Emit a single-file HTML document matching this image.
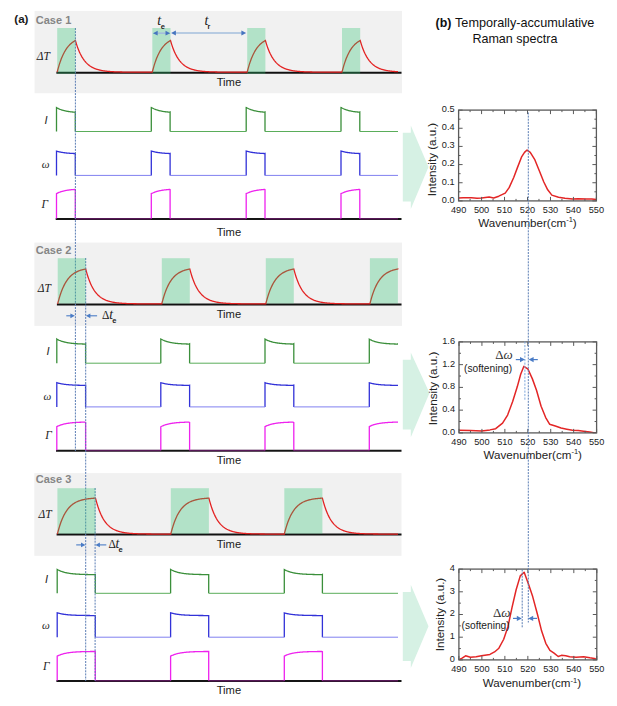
<!DOCTYPE html>
<html><head><meta charset="utf-8"><style>
html,body{margin:0;padding:0;background:#fff;}
svg{display:block;}
</style></head><body>
<svg width="617" height="706" viewBox="0 0 617 706">
<rect width="617" height="706" fill="#fff"/>
<text x="14.3" y="23.4" style="font-family:'Liberation Sans',sans-serif;font-weight:bold;font-size:11.6px" fill="#1a1a1a">(a)</text>
<rect x="34.6" y="10.9" width="367.4" height="82.3" fill="#f1f1f1"/>
<text x="35.8" y="23.8" style="font-family:'Liberation Sans',sans-serif;font-weight:bold;font-size:11px" fill="#858585">Case 1</text>
<line x1="56.4" y1="72.7" x2="401.5" y2="72.7" stroke="#111" stroke-width="2"/>
<path d="M57.2,72.2 L57.7,70.23 L58.2,68.36 L58.7,66.6 L59.2,64.93 L59.7,63.35 L60.2,61.85 L60.7,60.44 L61.2,59.1 L61.7,57.84 L62.2,56.64 L62.7,55.51 L63.2,54.44 L63.7,53.43 L64.2,52.47 L64.7,51.56 L65.2,50.71 L65.7,49.89 L66.2,49.13 L66.7,48.4 L67.2,47.72 L67.7,47.07 L68.2,46.45 L68.7,45.87 L69.2,45.32 L69.7,44.8 L70.2,44.31 L70.7,43.84 L71.2,43.4 L71.7,42.99 L72.2,42.59 L72.7,42.22 L73.2,41.87 L73.7,41.54 L74.2,41.22 L74.7,40.92 L75.2,40.64 L75.4,40.53 L75.9,42.24 L76.4,43.86 L76.9,45.39 L77.4,46.84 L77.9,48.21 L78.4,49.51 L78.9,50.73 L79.4,51.89 L79.9,52.99 L80.4,54.03 L80.9,55.01 L81.4,55.94 L81.9,56.82 L82.4,57.65 L82.9,58.44 L83.4,59.18 L83.9,59.88 L84.4,60.55 L84.9,61.18 L85.4,61.77 L85.9,62.34 L86.4,62.87 L86.9,63.38 L87.4,63.85 L87.9,64.3 L88.4,64.73 L88.9,65.13 L89.4,65.52 L89.9,65.88 L90.4,66.22 L90.9,66.54 L91.4,66.85 L91.9,67.14 L92.4,67.41 L92.9,67.67 L93.4,67.91 L93.9,68.15 L94.4,68.36 L94.9,68.57 L95.4,68.77 L95.9,68.95 L96.4,69.13 L96.9,69.29 L97.4,69.45 L97.9,69.6 L98.4,69.74 L98.9,69.87 L99.4,70 L99.9,70.12 L100.4,70.23 L100.9,70.34 L101.4,70.44 L101.9,70.53 L102.4,70.62 L102.9,70.71 L103.4,70.79 L103.9,70.87 L104.4,70.94 L104.9,71.01 L105.4,71.07 L105.9,71.13 L106.4,71.19 L106.9,71.24 L107.4,71.3 L107.9,71.34 L108.4,71.39 L108.9,71.43 L109.4,71.48 L109.9,71.51 L110.4,71.55 L110.9,71.59 L111.4,71.62 L111.9,71.65 L112.4,71.68 L112.9,71.71 L113.4,71.74 L113.9,71.76 L114.4,71.78 L114.9,71.81 L115.4,71.83 L115.9,71.85 L116.4,71.87 L116.9,71.89 L117.4,71.9 L117.9,71.92 L118.4,71.93 L118.9,71.95 L119.4,71.96 L119.9,71.97 L120.4,71.99 L120.9,72 L121.4,72.01 L121.9,72.02 L122.4,72.03 L122.9,72.04 L123.4,72.05 L123.9,72.06 L124.4,72.06 L124.9,72.07 L125.4,72.08 L125.9,72.08 L126.4,72.09 L126.9,72.1 L127.4,72.1 L127.9,72.11 L128.4,72.11 L128.9,72.12 L129.4,72.12 L129.9,72.13 L130.4,72.13 L130.9,72.13 L131.4,72.14 L131.9,72.14 L132.4,72.14 L132.9,72.15 L133.4,72.15 L133.9,72.15 L134.4,72.15 L134.9,72.16 L135.4,72.16 L135.9,72.16 L136.4,72.16 L136.9,72.17 L137.4,72.17 L137.9,72.17 L138.4,72.17 L138.9,72.17 L139.4,72.17 L139.9,72.18 L140.4,72.18 L140.9,72.18 L141.4,72.18 L141.9,72.18 L142.4,72.18 L142.9,72.18 L143.4,72.18 L143.9,72.18 L144.4,72.19 L144.9,72.19 L145.4,72.19 L145.9,72.19 L146.4,72.19 L146.9,72.19 L147.4,72.19 L147.9,72.19 L148.4,72.19 L148.9,72.19 L149.4,72.19 L149.9,72.19 L150.4,72.19 L150.9,72.19 L151.4,72.19 L151.9,72.19 L152.3,72.19 L152.8,70.22 L153.3,68.36 L153.8,66.59 L154.3,64.92 L154.8,63.34 L155.3,61.85 L155.8,60.44 L156.3,59.1 L156.8,57.83 L157.3,56.64 L157.8,55.51 L158.3,54.44 L158.8,53.42 L159.3,52.47 L159.8,51.56 L160.3,50.7 L160.8,49.89 L161.3,49.13 L161.8,48.4 L162.3,47.71 L162.8,47.06 L163.3,46.45 L163.8,45.87 L164.3,45.32 L164.8,44.8 L165.3,44.31 L165.8,43.84 L166.3,43.4 L166.8,42.99 L167.3,42.59 L167.8,42.22 L168.3,41.87 L168.8,41.53 L169.3,41.22 L169.8,40.92 L170.3,40.64 L170.5,40.53 L171,42.24 L171.5,43.86 L172,45.39 L172.5,46.84 L173,48.21 L173.5,49.51 L174,50.73 L174.5,51.89 L175,52.99 L175.5,54.03 L176,55.01 L176.5,55.94 L177,56.82 L177.5,57.65 L178,58.44 L178.5,59.18 L179,59.88 L179.5,60.55 L180,61.18 L180.5,61.77 L181,62.34 L181.5,62.87 L182,63.38 L182.5,63.85 L183,64.3 L183.5,64.73 L184,65.13 L184.5,65.52 L185,65.88 L185.5,66.22 L186,66.54 L186.5,66.85 L187,67.14 L187.5,67.41 L188,67.67 L188.5,67.91 L189,68.15 L189.5,68.36 L190,68.57 L190.5,68.77 L191,68.95 L191.5,69.13 L192,69.29 L192.5,69.45 L193,69.6 L193.5,69.74 L194,69.87 L194.5,70 L195,70.12 L195.5,70.23 L196,70.34 L196.5,70.44 L197,70.53 L197.5,70.62 L198,70.71 L198.5,70.79 L199,70.87 L199.5,70.94 L200,71.01 L200.5,71.07 L201,71.13 L201.5,71.19 L202,71.24 L202.5,71.3 L203,71.34 L203.5,71.39 L204,71.43 L204.5,71.48 L205,71.51 L205.5,71.55 L206,71.59 L206.5,71.62 L207,71.65 L207.5,71.68 L208,71.71 L208.5,71.74 L209,71.76 L209.5,71.78 L210,71.81 L210.5,71.83 L211,71.85 L211.5,71.87 L212,71.89 L212.5,71.9 L213,71.92 L213.5,71.93 L214,71.95 L214.5,71.96 L215,71.97 L215.5,71.99 L216,72 L216.5,72.01 L217,72.02 L217.5,72.03 L218,72.04 L218.5,72.05 L219,72.06 L219.5,72.06 L220,72.07 L220.5,72.08 L221,72.08 L221.5,72.09 L222,72.1 L222.5,72.1 L223,72.11 L223.5,72.11 L224,72.12 L224.5,72.12 L225,72.13 L225.5,72.13 L226,72.13 L226.5,72.14 L227,72.14 L227.5,72.14 L228,72.15 L228.5,72.15 L229,72.15 L229.5,72.15 L230,72.16 L230.5,72.16 L231,72.16 L231.5,72.16 L232,72.17 L232.5,72.17 L233,72.17 L233.5,72.17 L234,72.17 L234.5,72.17 L235,72.18 L235.5,72.18 L236,72.18 L236.5,72.18 L237,72.18 L237.5,72.18 L238,72.18 L238.5,72.18 L239,72.18 L239.5,72.19 L240,72.19 L240.5,72.19 L241,72.19 L241.5,72.19 L242,72.19 L242.5,72.19 L243,72.19 L243.5,72.19 L244,72.19 L244.5,72.19 L245,72.19 L245.5,72.19 L246,72.19 L246.5,72.19 L247,72.19 L247.2,72.19 L247.7,70.22 L248.2,68.36 L248.7,66.59 L249.2,64.92 L249.7,63.34 L250.2,61.85 L250.7,60.44 L251.2,59.1 L251.7,57.83 L252.2,56.64 L252.7,55.51 L253.2,54.44 L253.7,53.42 L254.2,52.47 L254.7,51.56 L255.2,50.7 L255.7,49.89 L256.2,49.13 L256.7,48.4 L257.2,47.71 L257.7,47.06 L258.2,46.45 L258.7,45.87 L259.2,45.32 L259.7,44.8 L260.2,44.31 L260.7,43.84 L261.2,43.4 L261.7,42.99 L262.2,42.59 L262.7,42.22 L263.2,41.87 L263.7,41.53 L264.2,41.22 L264.7,40.92 L265.2,40.64 L265.4,40.53 L265.9,42.24 L266.4,43.86 L266.9,45.39 L267.4,46.84 L267.9,48.21 L268.4,49.51 L268.9,50.73 L269.4,51.89 L269.9,52.99 L270.4,54.03 L270.9,55.01 L271.4,55.94 L271.9,56.82 L272.4,57.65 L272.9,58.44 L273.4,59.18 L273.9,59.88 L274.4,60.55 L274.9,61.18 L275.4,61.77 L275.9,62.34 L276.4,62.87 L276.9,63.38 L277.4,63.85 L277.9,64.3 L278.4,64.73 L278.9,65.13 L279.4,65.52 L279.9,65.88 L280.4,66.22 L280.9,66.54 L281.4,66.85 L281.9,67.14 L282.4,67.41 L282.9,67.67 L283.4,67.91 L283.9,68.15 L284.4,68.36 L284.9,68.57 L285.4,68.77 L285.9,68.95 L286.4,69.13 L286.9,69.29 L287.4,69.45 L287.9,69.6 L288.4,69.74 L288.9,69.87 L289.4,70 L289.9,70.12 L290.4,70.23 L290.9,70.34 L291.4,70.44 L291.9,70.53 L292.4,70.62 L292.9,70.71 L293.4,70.79 L293.9,70.87 L294.4,70.94 L294.9,71.01 L295.4,71.07 L295.9,71.13 L296.4,71.19 L296.9,71.24 L297.4,71.3 L297.9,71.34 L298.4,71.39 L298.9,71.43 L299.4,71.48 L299.9,71.51 L300.4,71.55 L300.9,71.59 L301.4,71.62 L301.9,71.65 L302.4,71.68 L302.9,71.71 L303.4,71.74 L303.9,71.76 L304.4,71.78 L304.9,71.81 L305.4,71.83 L305.9,71.85 L306.4,71.87 L306.9,71.89 L307.4,71.9 L307.9,71.92 L308.4,71.93 L308.9,71.95 L309.4,71.96 L309.9,71.97 L310.4,71.99 L310.9,72 L311.4,72.01 L311.9,72.02 L312.4,72.03 L312.9,72.04 L313.4,72.05 L313.9,72.06 L314.4,72.06 L314.9,72.07 L315.4,72.08 L315.9,72.08 L316.4,72.09 L316.9,72.1 L317.4,72.1 L317.9,72.11 L318.4,72.11 L318.9,72.12 L319.4,72.12 L319.9,72.13 L320.4,72.13 L320.9,72.13 L321.4,72.14 L321.9,72.14 L322.4,72.14 L322.9,72.15 L323.4,72.15 L323.9,72.15 L324.4,72.15 L324.9,72.16 L325.4,72.16 L325.9,72.16 L326.4,72.16 L326.9,72.17 L327.4,72.17 L327.9,72.17 L328.4,72.17 L328.9,72.17 L329.4,72.17 L329.9,72.18 L330.4,72.18 L330.9,72.18 L331.4,72.18 L331.9,72.18 L332.4,72.18 L332.9,72.18 L333.4,72.18 L333.9,72.18 L334.4,72.19 L334.9,72.19 L335.4,72.19 L335.9,72.19 L336.4,72.19 L336.9,72.19 L337.4,72.19 L337.9,72.19 L338.4,72.19 L338.9,72.19 L339.4,72.19 L339.9,72.19 L340.4,72.19 L340.9,72.19 L341.4,72.19 L341.9,72.19 L342,72.19 L342.5,70.22 L343,68.36 L343.5,66.59 L344,64.92 L344.5,63.34 L345,61.85 L345.5,60.44 L346,59.1 L346.5,57.83 L347,56.64 L347.5,55.51 L348,54.44 L348.5,53.42 L349,52.47 L349.5,51.56 L350,50.7 L350.5,49.89 L351,49.13 L351.5,48.4 L352,47.71 L352.5,47.06 L353,46.45 L353.5,45.87 L354,45.32 L354.5,44.8 L355,44.31 L355.5,43.84 L356,43.4 L356.5,42.99 L357,42.59 L357.5,42.22 L358,41.87 L358.5,41.53 L359,41.22 L359.5,40.92 L360,40.64 L360.2,40.53 L360.7,42.24 L361.2,43.86 L361.7,45.39 L362.2,46.84 L362.7,48.21 L363.2,49.51 L363.7,50.73 L364.2,51.89 L364.7,52.99 L365.2,54.03 L365.7,55.01 L366.2,55.94 L366.7,56.82 L367.2,57.65 L367.7,58.44 L368.2,59.18 L368.7,59.88 L369.2,60.55 L369.7,61.18 L370.2,61.77 L370.7,62.34 L371.2,62.87 L371.7,63.38 L372.2,63.85 L372.7,64.3 L373.2,64.73 L373.7,65.13 L374.2,65.52 L374.7,65.88 L375.2,66.22 L375.7,66.54 L376.2,66.85 L376.7,67.14 L377.2,67.41 L377.7,67.67 L378.2,67.91 L378.7,68.15 L379.2,68.36 L379.7,68.57 L380.2,68.77 L380.7,68.95 L381.2,69.13 L381.7,69.29 L382.2,69.45 L382.7,69.6 L383.2,69.74 L383.7,69.87 L384.2,70 L384.7,70.12 L385.2,70.23 L385.7,70.34 L386.2,70.44 L386.7,70.53 L387.2,70.62 L387.7,70.71 L388.2,70.79 L388.7,70.87 L389.2,70.94 L389.7,71.01 L390.2,71.07 L390.7,71.13 L391.2,71.19 L391.7,71.24 L392.2,71.3 L392.7,71.34 L393.2,71.39 L393.7,71.43 L394.2,71.48 L394.7,71.51 L395.2,71.55 L395.7,71.59 L396.2,71.62 L396.7,71.65 L397.2,71.68 L397.7,71.71 L398,71.73" fill="none" stroke="#e32222" stroke-width="1.3"/>
<text x="36.8" y="60.4" style="font-family:'Liberation Serif',serif;font-style:italic;font-size:11.5px" fill="#222">&#916;T</text>
<text x="216.7" y="86.4" style="font-family:'Liberation Sans',sans-serif;font-size:11.2px" fill="#1a1a1a">Time</text>
<path d="M56.5,131.5 L56.5,107.6 L57,107.89 L57.5,108.16 L58,108.41 L58.5,108.66 L59,108.89 L59.5,109.1 L60,109.31 L60.5,109.5 L61,109.69 L61.5,109.86 L62,110.02 L62.5,110.18 L63,110.33 L63.5,110.47 L64,110.6 L64.5,110.72 L65,110.84 L65.5,110.95 L66,111.06 L66.5,111.16 L67,111.25 L67.5,111.34 L68,111.42 L68.5,111.5 L69,111.58 L69.5,111.65 L70,111.72 L70.5,111.78 L71,111.84 L71.5,111.9 L72,111.95 L72.5,112 L73,112.05 L73.5,112.1 L74,112.14 L74.5,112.18 L75,112.05 L75.3,111.9 L75.3,131.5" fill="none" stroke="#3b8f3b" stroke-width="1.3"/>
<path d="M151.3,131.5 L151.3,107.6 L151.8,107.72 L152.3,108 L152.8,108.26 L153.3,108.51 L153.8,108.75 L154.3,108.97 L154.8,109.19 L155.3,109.39 L155.8,109.58 L156.3,109.76 L156.8,109.93 L157.3,110.09 L157.8,110.24 L158.3,110.38 L158.8,110.52 L159.3,110.65 L159.8,110.77 L160.3,110.88 L160.8,110.99 L161.3,111.1 L161.8,111.19 L162.3,111.29 L162.8,111.37 L163.3,111.46 L163.8,111.53 L164.3,111.61 L164.8,111.68 L165.3,111.74 L165.8,111.81 L166.3,111.86 L166.8,111.92 L167.3,111.97 L167.8,112.02 L168.3,112.07 L168.8,112.12 L169.3,112.16 L169.8,112.2 L170.1,112.05 L170.1,131.5" fill="none" stroke="#3b8f3b" stroke-width="1.3"/>
<path d="M246.2,131.5 L246.2,107.6 L246.7,107.72 L247.2,108 L247.7,108.26 L248.2,108.51 L248.7,108.75 L249.2,108.97 L249.7,109.19 L250.2,109.39 L250.7,109.58 L251.2,109.76 L251.7,109.93 L252.2,110.09 L252.7,110.24 L253.2,110.38 L253.7,110.52 L254.2,110.65 L254.7,110.77 L255.2,110.88 L255.7,110.99 L256.2,111.1 L256.7,111.19 L257.2,111.29 L257.7,111.37 L258.2,111.46 L258.7,111.53 L259.2,111.61 L259.7,111.68 L260.2,111.74 L260.7,111.81 L261.2,111.86 L261.7,111.92 L262.2,111.97 L262.7,112.02 L263.2,112.07 L263.7,112.12 L264.2,112.16 L264.7,112.2 L265,112.05 L265,131.5" fill="none" stroke="#3b8f3b" stroke-width="1.3"/>
<path d="M341,131.5 L341,107.6 L341.5,107.72 L342,108 L342.5,108.26 L343,108.51 L343.5,108.75 L344,108.97 L344.5,109.19 L345,109.39 L345.5,109.58 L346,109.76 L346.5,109.93 L347,110.09 L347.5,110.24 L348,110.38 L348.5,110.52 L349,110.65 L349.5,110.77 L350,110.88 L350.5,110.99 L351,111.1 L351.5,111.19 L352,111.29 L352.5,111.37 L353,111.46 L353.5,111.53 L354,111.61 L354.5,111.68 L355,111.74 L355.5,111.81 L356,111.86 L356.5,111.92 L357,111.97 L357.5,112.02 L358,112.07 L358.5,112.12 L359,112.16 L359.5,112.2 L359.8,112.05 L359.8,131.5" fill="none" stroke="#3b8f3b" stroke-width="1.3"/>
<line x1="75.3" y1="131.5" x2="151.3" y2="131.5" stroke="#5aad5a" stroke-width="1"/>
<line x1="170.1" y1="131.5" x2="246.2" y2="131.5" stroke="#5aad5a" stroke-width="1"/>
<line x1="265" y1="131.5" x2="341" y2="131.5" stroke="#5aad5a" stroke-width="1"/>
<line x1="359.8" y1="131.5" x2="398" y2="131.5" stroke="#5aad5a" stroke-width="1"/>
<path d="M56.5,175.4 L56.5,151.1 L57,151.25 L57.5,151.39 L58,151.53 L58.5,151.66 L59,151.78 L59.5,151.89 L60,152 L60.5,152.1 L61,152.2 L61.5,152.29 L62,152.38 L62.5,152.46 L63,152.54 L63.5,152.61 L64,152.68 L64.5,152.75 L65,152.81 L65.5,152.87 L66,152.93 L66.5,152.98 L67,153.03 L67.5,153.08 L68,153.12 L68.5,153.16 L69,153.2 L69.5,153.24 L70,153.28 L70.5,153.31 L71,153.34 L71.5,153.37 L72,153.4 L72.5,153.43 L73,153.45 L73.5,153.48 L74,153.5 L74.5,153.52 L75,153.45 L75.3,153.37 L75.3,175.4" fill="none" stroke="#3232d8" stroke-width="1.3"/>
<path d="M151.3,175.4 L151.3,151.1 L151.8,151.16 L152.3,151.31 L152.8,151.45 L153.3,151.58 L153.8,151.71 L154.3,151.83 L154.8,151.94 L155.3,152.04 L155.8,152.14 L156.3,152.24 L156.8,152.33 L157.3,152.41 L157.8,152.49 L158.3,152.57 L158.8,152.64 L159.3,152.71 L159.8,152.77 L160.3,152.83 L160.8,152.89 L161.3,152.95 L161.8,153 L162.3,153.05 L162.8,153.09 L163.3,153.14 L163.8,153.18 L164.3,153.22 L164.8,153.25 L165.3,153.29 L165.8,153.32 L166.3,153.35 L166.8,153.38 L167.3,153.41 L167.8,153.44 L168.3,153.46 L168.8,153.49 L169.3,153.51 L169.8,153.53 L170.1,153.45 L170.1,175.4" fill="none" stroke="#3232d8" stroke-width="1.3"/>
<path d="M246.2,175.4 L246.2,151.1 L246.7,151.16 L247.2,151.31 L247.7,151.45 L248.2,151.58 L248.7,151.71 L249.2,151.83 L249.7,151.94 L250.2,152.04 L250.7,152.14 L251.2,152.24 L251.7,152.33 L252.2,152.41 L252.7,152.49 L253.2,152.57 L253.7,152.64 L254.2,152.71 L254.7,152.77 L255.2,152.83 L255.7,152.89 L256.2,152.95 L256.7,153 L257.2,153.05 L257.7,153.09 L258.2,153.14 L258.7,153.18 L259.2,153.22 L259.7,153.25 L260.2,153.29 L260.7,153.32 L261.2,153.35 L261.7,153.38 L262.2,153.41 L262.7,153.44 L263.2,153.46 L263.7,153.49 L264.2,153.51 L264.7,153.53 L265,153.45 L265,175.4" fill="none" stroke="#3232d8" stroke-width="1.3"/>
<path d="M341,175.4 L341,151.1 L341.5,151.16 L342,151.31 L342.5,151.45 L343,151.58 L343.5,151.71 L344,151.83 L344.5,151.94 L345,152.04 L345.5,152.14 L346,152.24 L346.5,152.33 L347,152.41 L347.5,152.49 L348,152.57 L348.5,152.64 L349,152.71 L349.5,152.77 L350,152.83 L350.5,152.89 L351,152.95 L351.5,153 L352,153.05 L352.5,153.09 L353,153.14 L353.5,153.18 L354,153.22 L354.5,153.25 L355,153.29 L355.5,153.32 L356,153.35 L356.5,153.38 L357,153.41 L357.5,153.44 L358,153.46 L358.5,153.49 L359,153.51 L359.5,153.53 L359.8,153.45 L359.8,175.4" fill="none" stroke="#3232d8" stroke-width="1.3"/>
<line x1="75.3" y1="175.4" x2="151.3" y2="175.4" stroke="#8080f0" stroke-width="1"/>
<line x1="170.1" y1="175.4" x2="246.2" y2="175.4" stroke="#8080f0" stroke-width="1"/>
<line x1="265" y1="175.4" x2="341" y2="175.4" stroke="#8080f0" stroke-width="1"/>
<line x1="359.8" y1="175.4" x2="398" y2="175.4" stroke="#8080f0" stroke-width="1"/>
<line x1="55.7" y1="219" x2="401.5" y2="219" stroke="#151515" stroke-width="2"/>
<path d="M56.5,218.6 L56.5,193.6 L57,193.34 L57.5,193.1 L58,192.86 L58.5,192.64 L59,192.44 L59.5,192.24 L60,192.05 L60.5,191.88 L61,191.71 L61.5,191.55 L62,191.41 L62.5,191.26 L63,191.13 L63.5,191.01 L64,190.89 L64.5,190.77 L65,190.67 L65.5,190.57 L66,190.47 L66.5,190.38 L67,190.29 L67.5,190.21 L68,190.14 L68.5,190.07 L69,190 L69.5,189.93 L70,189.87 L70.5,189.81 L71,189.76 L71.5,189.71 L72,189.66 L72.5,189.61 L73,189.57 L73.5,189.53 L74,189.49 L74.5,189.45 L75,189.57 L75.3,189.7 L75.3,218.6" fill="none" stroke="#ee22ee" stroke-width="1.3"/>
<path d="M151.3,218.6 L151.3,193.6 L151.8,193.5 L152.3,193.24 L152.8,193 L153.3,192.77 L153.8,192.56 L154.3,192.36 L154.8,192.16 L155.3,191.98 L155.8,191.81 L156.3,191.65 L156.8,191.49 L157.3,191.35 L157.8,191.21 L158.3,191.08 L158.8,190.96 L159.3,190.84 L159.8,190.73 L160.3,190.63 L160.8,190.53 L161.3,190.43 L161.8,190.35 L162.3,190.26 L162.8,190.18 L163.3,190.11 L163.8,190.04 L164.3,189.97 L164.8,189.91 L165.3,189.85 L165.8,189.79 L166.3,189.74 L166.8,189.69 L167.3,189.64 L167.8,189.59 L168.3,189.55 L168.8,189.51 L169.3,189.47 L169.8,189.44 L170.1,189.57 L170.1,218.6" fill="none" stroke="#ee22ee" stroke-width="1.3"/>
<path d="M246.2,218.6 L246.2,193.6 L246.7,193.5 L247.2,193.24 L247.7,193 L248.2,192.77 L248.7,192.56 L249.2,192.36 L249.7,192.16 L250.2,191.98 L250.7,191.81 L251.2,191.65 L251.7,191.49 L252.2,191.35 L252.7,191.21 L253.2,191.08 L253.7,190.96 L254.2,190.84 L254.7,190.73 L255.2,190.63 L255.7,190.53 L256.2,190.43 L256.7,190.35 L257.2,190.26 L257.7,190.18 L258.2,190.11 L258.7,190.04 L259.2,189.97 L259.7,189.91 L260.2,189.85 L260.7,189.79 L261.2,189.74 L261.7,189.69 L262.2,189.64 L262.7,189.59 L263.2,189.55 L263.7,189.51 L264.2,189.47 L264.7,189.44 L265,189.57 L265,218.6" fill="none" stroke="#ee22ee" stroke-width="1.3"/>
<path d="M341,218.6 L341,193.6 L341.5,193.5 L342,193.24 L342.5,193 L343,192.77 L343.5,192.56 L344,192.36 L344.5,192.16 L345,191.98 L345.5,191.81 L346,191.65 L346.5,191.49 L347,191.35 L347.5,191.21 L348,191.08 L348.5,190.96 L349,190.84 L349.5,190.73 L350,190.63 L350.5,190.53 L351,190.43 L351.5,190.35 L352,190.26 L352.5,190.18 L353,190.11 L353.5,190.04 L354,189.97 L354.5,189.91 L355,189.85 L355.5,189.79 L356,189.74 L356.5,189.69 L357,189.64 L357.5,189.59 L358,189.55 L358.5,189.51 L359,189.47 L359.5,189.44 L359.8,189.57 L359.8,218.6" fill="none" stroke="#ee22ee" stroke-width="1.3"/>
<line x1="75.3" y1="218.8" x2="151.3" y2="218.8" stroke="#ee22ee" stroke-width="1.6" opacity="0.3"/>
<line x1="170.1" y1="218.8" x2="246.2" y2="218.8" stroke="#ee22ee" stroke-width="1.6" opacity="0.3"/>
<line x1="265" y1="218.8" x2="341" y2="218.8" stroke="#ee22ee" stroke-width="1.6" opacity="0.3"/>
<line x1="359.8" y1="218.8" x2="398" y2="218.8" stroke="#ee22ee" stroke-width="1.6" opacity="0.3"/>
<text x="44.5" y="123.7" style="font-family:'Liberation Sans',sans-serif;font-style:italic;font-size:11px" fill="#222">I</text>
<text x="41.8" y="168.4" style="font-family:'Liberation Serif',serif;font-style:italic;font-size:11px" fill="#222">&#969;</text>
<text x="41.5" y="207.6" style="font-family:'Liberation Serif',serif;font-style:italic;font-size:11.5px" fill="#222">&#915;</text>
<text x="216.7" y="235.7" style="font-family:'Liberation Sans',sans-serif;font-size:11.2px" fill="#1a1a1a">Time</text>
<rect x="34.4" y="242.6" width="367.6" height="83.3" fill="#f1f1f1"/>
<text x="35.8" y="254.3" style="font-family:'Liberation Sans',sans-serif;font-weight:bold;font-size:11px" fill="#858585">Case 2</text>
<line x1="56.9" y1="304.4" x2="401.5" y2="304.4" stroke="#111" stroke-width="2"/>
<path d="M57.7,303.9 L58.2,301.93 L58.7,300.06 L59.2,298.3 L59.7,296.63 L60.2,295.05 L60.7,293.55 L61.2,292.14 L61.7,290.8 L62.2,289.54 L62.7,288.34 L63.2,287.21 L63.7,286.14 L64.2,285.13 L64.7,284.17 L65.2,283.26 L65.7,282.41 L66.2,281.59 L66.7,280.83 L67.2,280.1 L67.7,279.42 L68.2,278.77 L68.7,278.15 L69.2,277.57 L69.7,277.02 L70.2,276.5 L70.7,276.01 L71.2,275.54 L71.7,275.1 L72.2,274.69 L72.7,274.29 L73.2,273.92 L73.7,273.57 L74.2,273.24 L74.7,272.92 L75.2,272.62 L75.7,272.34 L76.2,272.07 L76.7,271.82 L77.2,271.58 L77.7,271.36 L78.2,271.14 L78.7,270.94 L79.2,270.75 L79.7,270.57 L80.2,270.4 L80.7,270.23 L81.2,270.08 L81.7,269.94 L82.2,269.8 L82.7,269.67 L83.2,269.55 L83.7,269.43 L84.2,269.32 L84.7,269.22 L85.2,269.12 L85.7,269.03 L86.2,270.91 L86.7,272.69 L87.2,274.38 L87.7,275.98 L88.2,277.48 L88.7,278.91 L89.2,280.26 L89.7,281.54 L90.2,282.75 L90.7,283.89 L91.2,284.97 L91.7,286 L92.2,286.96 L92.7,287.88 L93.2,288.74 L93.7,289.56 L94.2,290.34 L94.7,291.07 L95.2,291.76 L95.7,292.42 L96.2,293.04 L96.7,293.63 L97.2,294.18 L97.7,294.71 L98.2,295.2 L98.7,295.67 L99.2,296.12 L99.7,296.54 L100.2,296.94 L100.7,297.31 L101.2,297.67 L101.7,298.01 L102.2,298.32 L102.7,298.63 L103.2,298.91 L103.7,299.18 L104.2,299.44 L104.7,299.68 L105.2,299.9 L105.7,300.12 L106.2,300.33 L106.7,300.52 L107.2,300.7 L107.7,300.87 L108.2,301.04 L108.7,301.19 L109.2,301.34 L109.7,301.48 L110.2,301.61 L110.7,301.73 L111.2,301.85 L111.7,301.96 L112.2,302.06 L112.7,302.16 L113.2,302.26 L113.7,302.35 L114.2,302.43 L114.7,302.51 L115.2,302.58 L115.7,302.66 L116.2,302.72 L116.7,302.79 L117.2,302.85 L117.7,302.9 L118.2,302.96 L118.7,303.01 L119.2,303.06 L119.7,303.1 L120.2,303.15 L120.7,303.19 L121.2,303.22 L121.7,303.26 L122.2,303.3 L122.7,303.33 L123.2,303.36 L123.7,303.39 L124.2,303.42 L124.7,303.44 L125.2,303.47 L125.7,303.49 L126.2,303.51 L126.7,303.53 L127.2,303.55 L127.7,303.57 L128.2,303.59 L128.7,303.61 L129.2,303.62 L129.7,303.64 L130.2,303.65 L130.7,303.67 L131.2,303.68 L131.7,303.69 L132.2,303.7 L132.7,303.71 L133.2,303.72 L133.7,303.73 L134.2,303.74 L134.7,303.75 L135.2,303.76 L135.7,303.77 L136.2,303.77 L136.7,303.78 L137.2,303.79 L137.7,303.79 L138.2,303.8 L138.7,303.8 L139.2,303.81 L139.7,303.81 L140.2,303.82 L140.7,303.82 L141.2,303.83 L141.7,303.83 L142.2,303.83 L142.7,303.84 L143.2,303.84 L143.7,303.84 L144.2,303.85 L144.7,303.85 L145.2,303.85 L145.7,303.86 L146.2,303.86 L146.7,303.86 L147.2,303.86 L147.7,303.86 L148.2,303.87 L148.7,303.87 L149.2,303.87 L149.7,303.87 L150.2,303.87 L150.7,303.87 L151.2,303.88 L151.7,303.88 L152.2,303.88 L152.7,303.88 L153.2,303.88 L153.7,303.88 L154.2,303.88 L154.7,303.88 L155.2,303.88 L155.7,303.89 L156.2,303.89 L156.7,303.89 L157.2,303.89 L157.7,303.89 L158.2,303.89 L158.7,303.89 L159.2,303.89 L159.7,303.89 L160.2,303.89 L160.7,303.89 L161.2,303.89 L161.7,303.89 L161.8,303.89 L162.3,301.92 L162.8,300.05 L163.3,298.29 L163.8,296.62 L164.3,295.04 L164.8,293.55 L165.3,292.14 L165.8,290.8 L166.3,289.53 L166.8,288.34 L167.3,287.21 L167.8,286.14 L168.3,285.12 L168.8,284.17 L169.3,283.26 L169.8,282.4 L170.3,281.59 L170.8,280.82 L171.3,280.1 L171.8,279.41 L172.3,278.76 L172.8,278.15 L173.3,277.57 L173.8,277.02 L174.3,276.5 L174.8,276.01 L175.3,275.54 L175.8,275.1 L176.3,274.69 L176.8,274.29 L177.3,273.92 L177.8,273.57 L178.3,273.23 L178.8,272.92 L179.3,272.62 L179.8,272.34 L180.3,272.07 L180.8,271.82 L181.3,271.58 L181.8,271.35 L182.3,271.14 L182.8,270.94 L183.3,270.75 L183.8,270.57 L184.3,270.4 L184.8,270.23 L185.3,270.08 L185.8,269.94 L186.3,269.8 L186.8,269.67 L187.3,269.55 L187.8,269.43 L188.3,269.32 L188.8,269.22 L189.3,269.12 L189.8,269.03 L190.3,270.91 L190.8,272.69 L191.3,274.38 L191.8,275.97 L192.3,277.48 L192.8,278.91 L193.3,280.26 L193.8,281.54 L194.3,282.75 L194.8,283.89 L195.3,284.97 L195.8,285.99 L196.3,286.96 L196.8,287.88 L197.3,288.74 L197.8,289.56 L198.3,290.34 L198.8,291.07 L199.3,291.76 L199.8,292.42 L200.3,293.04 L200.8,293.63 L201.3,294.18 L201.8,294.71 L202.3,295.2 L202.8,295.67 L203.3,296.12 L203.8,296.54 L204.3,296.94 L204.8,297.31 L205.3,297.67 L205.8,298.01 L206.3,298.32 L206.8,298.63 L207.3,298.91 L207.8,299.18 L208.3,299.44 L208.8,299.68 L209.3,299.9 L209.8,300.12 L210.3,300.32 L210.8,300.52 L211.3,300.7 L211.8,300.87 L212.3,301.04 L212.8,301.19 L213.3,301.34 L213.8,301.48 L214.3,301.61 L214.8,301.73 L215.3,301.85 L215.8,301.96 L216.3,302.06 L216.8,302.16 L217.3,302.26 L217.8,302.35 L218.3,302.43 L218.8,302.51 L219.3,302.58 L219.8,302.66 L220.3,302.72 L220.8,302.79 L221.3,302.85 L221.8,302.9 L222.3,302.96 L222.8,303.01 L223.3,303.06 L223.8,303.1 L224.3,303.15 L224.8,303.19 L225.3,303.22 L225.8,303.26 L226.3,303.3 L226.8,303.33 L227.3,303.36 L227.8,303.39 L228.3,303.42 L228.8,303.44 L229.3,303.47 L229.8,303.49 L230.3,303.51 L230.8,303.53 L231.3,303.55 L231.8,303.57 L232.3,303.59 L232.8,303.61 L233.3,303.62 L233.8,303.64 L234.3,303.65 L234.8,303.67 L235.3,303.68 L235.8,303.69 L236.3,303.7 L236.8,303.71 L237.3,303.72 L237.8,303.73 L238.3,303.74 L238.8,303.75 L239.3,303.76 L239.8,303.77 L240.3,303.77 L240.8,303.78 L241.3,303.79 L241.8,303.79 L242.3,303.8 L242.8,303.8 L243.3,303.81 L243.8,303.81 L244.3,303.82 L244.8,303.82 L245.3,303.83 L245.8,303.83 L246.3,303.83 L246.8,303.84 L247.3,303.84 L247.8,303.84 L248.3,303.85 L248.8,303.85 L249.3,303.85 L249.8,303.86 L250.3,303.86 L250.8,303.86 L251.3,303.86 L251.8,303.86 L252.3,303.87 L252.8,303.87 L253.3,303.87 L253.8,303.87 L254.3,303.87 L254.8,303.87 L255.3,303.88 L255.8,303.88 L256.3,303.88 L256.8,303.88 L257.3,303.88 L257.8,303.88 L258.3,303.88 L258.8,303.88 L259.3,303.88 L259.8,303.89 L260.3,303.89 L260.8,303.89 L261.3,303.89 L261.8,303.89 L262.3,303.89 L262.8,303.89 L263.3,303.89 L263.8,303.89 L264.3,303.89 L264.8,303.89 L265.3,303.89 L265.8,303.89 L266.3,301.92 L266.8,300.05 L267.3,298.29 L267.8,296.62 L268.3,295.04 L268.8,293.55 L269.3,292.13 L269.8,290.8 L270.3,289.53 L270.8,288.34 L271.3,287.21 L271.8,286.14 L272.3,285.12 L272.8,284.17 L273.3,283.26 L273.8,282.4 L274.3,281.59 L274.8,280.82 L275.3,280.1 L275.8,279.41 L276.3,278.76 L276.8,278.15 L277.3,277.57 L277.8,277.02 L278.3,276.5 L278.8,276.01 L279.3,275.54 L279.8,275.1 L280.3,274.69 L280.8,274.29 L281.3,273.92 L281.8,273.57 L282.3,273.23 L282.8,272.92 L283.3,272.62 L283.8,272.34 L284.3,272.07 L284.8,271.82 L285.3,271.58 L285.8,271.35 L286.3,271.14 L286.8,270.94 L287.3,270.75 L287.8,270.57 L288.3,270.4 L288.8,270.23 L289.3,270.08 L289.8,269.94 L290.3,269.8 L290.8,269.67 L291.3,269.55 L291.8,269.43 L292.3,269.32 L292.8,269.22 L293.3,269.12 L293.8,269.03 L294.3,270.91 L294.8,272.69 L295.3,274.38 L295.8,275.97 L296.3,277.48 L296.8,278.91 L297.3,280.26 L297.8,281.54 L298.3,282.75 L298.8,283.89 L299.3,284.97 L299.8,285.99 L300.3,286.96 L300.8,287.88 L301.3,288.74 L301.8,289.56 L302.3,290.34 L302.8,291.07 L303.3,291.76 L303.8,292.42 L304.3,293.04 L304.8,293.63 L305.3,294.18 L305.8,294.71 L306.3,295.2 L306.8,295.67 L307.3,296.12 L307.8,296.54 L308.3,296.94 L308.8,297.31 L309.3,297.67 L309.8,298.01 L310.3,298.32 L310.8,298.63 L311.3,298.91 L311.8,299.18 L312.3,299.44 L312.8,299.68 L313.3,299.9 L313.8,300.12 L314.3,300.32 L314.8,300.52 L315.3,300.7 L315.8,300.87 L316.3,301.04 L316.8,301.19 L317.3,301.34 L317.8,301.48 L318.3,301.61 L318.8,301.73 L319.3,301.85 L319.8,301.96 L320.3,302.06 L320.8,302.16 L321.3,302.26 L321.8,302.35 L322.3,302.43 L322.8,302.51 L323.3,302.58 L323.8,302.66 L324.3,302.72 L324.8,302.79 L325.3,302.85 L325.8,302.9 L326.3,302.96 L326.8,303.01 L327.3,303.06 L327.8,303.1 L328.3,303.15 L328.8,303.19 L329.3,303.22 L329.8,303.26 L330.3,303.3 L330.8,303.33 L331.3,303.36 L331.8,303.39 L332.3,303.42 L332.8,303.44 L333.3,303.47 L333.8,303.49 L334.3,303.51 L334.8,303.53 L335.3,303.55 L335.8,303.57 L336.3,303.59 L336.8,303.61 L337.3,303.62 L337.8,303.64 L338.3,303.65 L338.8,303.67 L339.3,303.68 L339.8,303.69 L340.3,303.7 L340.8,303.71 L341.3,303.72 L341.8,303.73 L342.3,303.74 L342.8,303.75 L343.3,303.76 L343.8,303.77 L344.3,303.77 L344.8,303.78 L345.3,303.79 L345.8,303.79 L346.3,303.8 L346.8,303.8 L347.3,303.81 L347.8,303.81 L348.3,303.82 L348.8,303.82 L349.3,303.83 L349.8,303.83 L350.3,303.83 L350.8,303.84 L351.3,303.84 L351.8,303.84 L352.3,303.85 L352.8,303.85 L353.3,303.85 L353.8,303.86 L354.3,303.86 L354.8,303.86 L355.3,303.86 L355.8,303.86 L356.3,303.87 L356.8,303.87 L357.3,303.87 L357.8,303.87 L358.3,303.87 L358.8,303.87 L359.3,303.88 L359.8,303.88 L360.3,303.88 L360.8,303.88 L361.3,303.88 L361.8,303.88 L362.3,303.88 L362.8,303.88 L363.3,303.88 L363.8,303.89 L364.3,303.89 L364.8,303.89 L365.3,303.89 L365.8,303.89 L366.3,303.89 L366.8,303.89 L367.3,303.89 L367.8,303.89 L368.3,303.89 L368.8,303.89 L369.3,303.89 L369.8,303.89 L369.9,303.89 L370.4,301.92 L370.9,300.05 L371.4,298.29 L371.9,296.62 L372.4,295.04 L372.9,293.55 L373.4,292.14 L373.9,290.8 L374.4,289.53 L374.9,288.34 L375.4,287.21 L375.9,286.14 L376.4,285.12 L376.9,284.17 L377.4,283.26 L377.9,282.4 L378.4,281.59 L378.9,280.82 L379.4,280.1 L379.9,279.41 L380.4,278.76 L380.9,278.15 L381.4,277.57 L381.9,277.02 L382.4,276.5 L382.9,276.01 L383.4,275.54 L383.9,275.1 L384.4,274.69 L384.9,274.29 L385.4,273.92 L385.9,273.57 L386.4,273.23 L386.9,272.92 L387.4,272.62 L387.9,272.34 L388.4,272.07 L388.9,271.82 L389.4,271.58 L389.9,271.35 L390.4,271.14 L390.9,270.94 L391.4,270.75 L391.9,270.57 L392.4,270.4 L392.9,270.23 L393.4,270.08 L393.9,269.94 L394.4,269.8 L394.9,269.67 L395.4,269.55 L395.9,269.43 L396.4,269.32 L396.9,269.22 L397.4,269.12 L397.9,269.03 L398,269.41" fill="none" stroke="#e32222" stroke-width="1.3"/>
<text x="37.8" y="292.2" style="font-family:'Liberation Serif',serif;font-style:italic;font-size:11.5px" fill="#222">&#916;T</text>
<text x="216.7" y="317.8" style="font-family:'Liberation Sans',sans-serif;font-size:11.2px" fill="#1a1a1a">Time</text>
<path d="M56.8,363.2 L56.8,339 L57.3,339.29 L57.8,339.56 L58.3,339.81 L58.8,340.06 L59.3,340.29 L59.8,340.5 L60.3,340.71 L60.8,340.9 L61.3,341.09 L61.8,341.26 L62.3,341.42 L62.8,341.58 L63.3,341.73 L63.8,341.87 L64.3,342 L64.8,342.12 L65.3,342.24 L65.8,342.35 L66.3,342.46 L66.8,342.56 L67.3,342.65 L67.8,342.74 L68.3,342.82 L68.8,342.9 L69.3,342.98 L69.8,343.05 L70.3,343.12 L70.8,343.18 L71.3,343.24 L71.8,343.3 L72.3,343.35 L72.8,343.4 L73.3,343.45 L73.8,343.5 L74.3,343.54 L74.8,343.58 L75.3,343.62 L75.8,343.66 L76.3,343.69 L76.8,343.73 L77.3,343.76 L77.8,343.79 L78.3,343.81 L78.8,343.84 L79.3,343.86 L79.8,343.89 L80.3,343.91 L80.8,343.93 L81.3,343.95 L81.8,343.97 L82.3,343.99 L82.8,344.01 L83.3,344.02 L83.8,344.04 L84.3,344.05 L84.8,344.06 L85.3,343.79 L85.6,343.63 L85.6,363.2" fill="none" stroke="#3b8f3b" stroke-width="1.3"/>
<path d="M160.8,363.2 L160.8,339 L161.3,339.23 L161.8,339.5 L162.3,339.76 L162.8,340.01 L163.3,340.24 L163.8,340.46 L164.3,340.67 L164.8,340.86 L165.3,341.05 L165.8,341.22 L166.3,341.39 L166.8,341.55 L167.3,341.7 L167.8,341.84 L168.3,341.97 L168.8,342.1 L169.3,342.22 L169.8,342.33 L170.3,342.43 L170.8,342.54 L171.3,342.63 L171.8,342.72 L172.3,342.81 L172.8,342.89 L173.3,342.96 L173.8,343.04 L174.3,343.1 L174.8,343.17 L175.3,343.23 L175.8,343.29 L176.3,343.34 L176.8,343.39 L177.3,343.44 L177.8,343.49 L178.3,343.53 L178.8,343.57 L179.3,343.61 L179.8,343.65 L180.3,343.69 L180.8,343.72 L181.3,343.75 L181.8,343.78 L182.3,343.81 L182.8,343.83 L183.3,343.86 L183.8,343.88 L184.3,343.91 L184.8,343.93 L185.3,343.95 L185.8,343.97 L186.3,343.98 L186.8,344 L187.3,344.02 L187.8,344.03 L188.3,344.05 L188.8,344.06 L189.3,343.84 L189.6,343.69 L189.6,363.2" fill="none" stroke="#3b8f3b" stroke-width="1.3"/>
<path d="M265,363.2 L265,339.06 L265.5,339.34 L266,339.61 L266.5,339.86 L267,340.1 L267.5,340.33 L268,340.54 L268.5,340.75 L269,340.94 L269.5,341.12 L270,341.29 L270.5,341.46 L271,341.61 L271.5,341.75 L272,341.89 L272.5,342.02 L273,342.15 L273.5,342.26 L274,342.37 L274.5,342.48 L275,342.57 L275.5,342.67 L276,342.76 L276.5,342.84 L277,342.92 L277.5,342.99 L278,343.06 L278.5,343.13 L279,343.19 L279.5,343.25 L280,343.31 L280.5,343.36 L281,343.41 L281.5,343.46 L282,343.51 L282.5,343.55 L283,343.59 L283.5,343.63 L284,343.67 L284.5,343.7 L285,343.73 L285.5,343.76 L286,343.79 L286.5,343.82 L287,343.85 L287.5,343.87 L288,343.89 L288.5,343.91 L289,343.94 L289.5,343.96 L290,343.97 L290.5,343.99 L291,344.01 L291.5,344.02 L292,344.04 L292.5,344.05 L293,344.01 L293.5,343.74 L293.8,343.58 L293.8,363.2" fill="none" stroke="#3b8f3b" stroke-width="1.3"/>
<path d="M369.3,363.2 L369.3,339.17 L369.8,339.45 L370.3,339.71 L370.8,339.96 L371.3,340.19 L371.8,340.42 L372.3,340.63 L372.8,340.82 L373.3,341.01 L373.8,341.19 L374.3,341.36 L374.8,341.52 L375.3,341.67 L375.8,341.81 L376.3,341.94 L376.8,342.07 L377.3,342.19 L377.8,342.31 L378.3,342.41 L378.8,342.52 L379.3,342.61 L379.8,342.7 L380.3,342.79 L380.8,342.87 L381.3,342.95 L381.8,343.02 L382.3,343.09 L382.8,343.16 L383.3,343.22 L383.8,343.28 L384.3,343.33 L384.8,343.38 L385.3,343.43 L385.8,343.48 L386.3,343.52 L386.8,343.57 L387.3,343.61 L387.8,343.64 L388.3,343.68 L388.8,343.71 L389.3,343.74 L389.8,343.77 L390.3,343.8 L390.8,343.83 L391.3,343.86 L391.8,343.88 L392.3,343.9 L392.8,343.92 L393.3,343.94 L393.8,343.96 L394.3,343.98 L394.8,344 L395.3,344.01 L395.8,344.03 L396.3,344.04 L396.8,344.06 L397.3,344.01 L397.8,344.01 L398,344.01" fill="none" stroke="#3b8f3b" stroke-width="1.3"/>
<line x1="85.6" y1="363.2" x2="160.8" y2="363.2" stroke="#5aad5a" stroke-width="1"/>
<line x1="189.6" y1="363.2" x2="265" y2="363.2" stroke="#5aad5a" stroke-width="1"/>
<line x1="293.8" y1="363.2" x2="369.3" y2="363.2" stroke="#5aad5a" stroke-width="1"/>
<path d="M56.8,406.9 L56.8,382.7 L57.3,382.85 L57.8,382.99 L58.3,383.13 L58.8,383.26 L59.3,383.38 L59.8,383.49 L60.3,383.6 L60.8,383.7 L61.3,383.8 L61.8,383.89 L62.3,383.98 L62.8,384.06 L63.3,384.14 L63.8,384.21 L64.3,384.28 L64.8,384.35 L65.3,384.41 L65.8,384.47 L66.3,384.53 L66.8,384.58 L67.3,384.63 L67.8,384.68 L68.3,384.72 L68.8,384.76 L69.3,384.8 L69.8,384.84 L70.3,384.88 L70.8,384.91 L71.3,384.94 L71.8,384.97 L72.3,385 L72.8,385.03 L73.3,385.05 L73.8,385.08 L74.3,385.1 L74.8,385.12 L75.3,385.14 L75.8,385.16 L76.3,385.18 L76.8,385.2 L77.3,385.21 L77.8,385.23 L78.3,385.24 L78.8,385.26 L79.3,385.27 L79.8,385.28 L80.3,385.29 L80.8,385.31 L81.3,385.32 L81.8,385.33 L82.3,385.34 L82.8,385.34 L83.3,385.35 L83.8,385.36 L84.3,385.37 L84.8,385.38 L85.3,385.23 L85.6,385.15 L85.6,406.9" fill="none" stroke="#3232d8" stroke-width="1.3"/>
<path d="M160.8,406.9 L160.8,382.7 L161.3,382.82 L161.8,382.97 L162.3,383.1 L162.8,383.23 L163.3,383.36 L163.8,383.47 L164.3,383.58 L164.8,383.68 L165.3,383.78 L165.8,383.88 L166.3,383.96 L166.8,384.05 L167.3,384.12 L167.8,384.2 L168.3,384.27 L168.8,384.34 L169.3,384.4 L169.8,384.46 L170.3,384.51 L170.8,384.57 L171.3,384.62 L171.8,384.67 L172.3,384.71 L172.8,384.75 L173.3,384.79 L173.8,384.83 L174.3,384.87 L174.8,384.9 L175.3,384.93 L175.8,384.97 L176.3,384.99 L176.8,385.02 L177.3,385.05 L177.8,385.07 L178.3,385.09 L178.8,385.12 L179.3,385.14 L179.8,385.16 L180.3,385.18 L180.8,385.19 L181.3,385.21 L181.8,385.23 L182.3,385.24 L182.8,385.25 L183.3,385.27 L183.8,385.28 L184.3,385.29 L184.8,385.3 L185.3,385.31 L185.8,385.32 L186.3,385.33 L186.8,385.34 L187.3,385.35 L187.8,385.36 L188.3,385.37 L188.8,385.37 L189.3,385.26 L189.6,385.18 L189.6,406.9" fill="none" stroke="#3232d8" stroke-width="1.3"/>
<path d="M265,406.9 L265,382.73 L265.5,382.88 L266,383.02 L266.5,383.16 L267,383.28 L267.5,383.4 L268,383.52 L268.5,383.62 L269,383.72 L269.5,383.82 L270,383.91 L270.5,384 L271,384.08 L271.5,384.16 L272,384.23 L272.5,384.3 L273,384.36 L273.5,384.42 L274,384.48 L274.5,384.54 L275,384.59 L275.5,384.64 L276,384.68 L276.5,384.73 L277,384.77 L277.5,384.81 L278,384.85 L278.5,384.88 L279,384.92 L279.5,384.95 L280,384.98 L280.5,385.01 L281,385.03 L281.5,385.06 L282,385.08 L282.5,385.1 L283,385.13 L283.5,385.15 L284,385.16 L284.5,385.18 L285,385.2 L285.5,385.22 L286,385.23 L286.5,385.25 L287,385.26 L287.5,385.27 L288,385.28 L288.5,385.3 L289,385.31 L289.5,385.32 L290,385.33 L290.5,385.34 L291,385.35 L291.5,385.35 L292,385.36 L292.5,385.37 L293,385.35 L293.5,385.2 L293.8,385.12 L293.8,406.9" fill="none" stroke="#3232d8" stroke-width="1.3"/>
<path d="M369.3,406.9 L369.3,382.79 L369.8,382.94 L370.3,383.08 L370.8,383.21 L371.3,383.33 L371.8,383.45 L372.3,383.56 L372.8,383.66 L373.3,383.76 L373.8,383.86 L374.3,383.95 L374.8,384.03 L375.3,384.11 L375.8,384.18 L376.3,384.26 L376.8,384.32 L377.3,384.39 L377.8,384.45 L378.3,384.5 L378.8,384.56 L379.3,384.61 L379.8,384.66 L380.3,384.7 L380.8,384.75 L381.3,384.79 L381.8,384.82 L382.3,384.86 L382.8,384.9 L383.3,384.93 L383.8,384.96 L384.3,384.99 L384.8,385.02 L385.3,385.04 L385.8,385.07 L386.3,385.09 L386.8,385.11 L387.3,385.13 L387.8,385.15 L388.3,385.17 L388.8,385.19 L389.3,385.21 L389.8,385.22 L390.3,385.24 L390.8,385.25 L391.3,385.26 L391.8,385.28 L392.3,385.29 L392.8,385.3 L393.3,385.31 L393.8,385.32 L394.3,385.33 L394.8,385.34 L395.3,385.35 L395.8,385.36 L396.3,385.37 L396.8,385.37 L397.3,385.35 L397.8,385.35 L398,385.35" fill="none" stroke="#3232d8" stroke-width="1.3"/>
<line x1="85.6" y1="406.9" x2="160.8" y2="406.9" stroke="#8080f0" stroke-width="1"/>
<line x1="189.6" y1="406.9" x2="265" y2="406.9" stroke="#8080f0" stroke-width="1"/>
<line x1="293.8" y1="406.9" x2="369.3" y2="406.9" stroke="#8080f0" stroke-width="1"/>
<line x1="56" y1="450.7" x2="401.5" y2="450.7" stroke="#151515" stroke-width="2"/>
<path d="M56.8,450.3 L56.8,426.7 L57.3,426.44 L57.8,426.2 L58.3,425.96 L58.8,425.74 L59.3,425.54 L59.8,425.34 L60.3,425.15 L60.8,424.98 L61.3,424.81 L61.8,424.65 L62.3,424.51 L62.8,424.36 L63.3,424.23 L63.8,424.11 L64.3,423.99 L64.8,423.87 L65.3,423.77 L65.8,423.67 L66.3,423.57 L66.8,423.48 L67.3,423.39 L67.8,423.31 L68.3,423.24 L68.8,423.17 L69.3,423.1 L69.8,423.03 L70.3,422.97 L70.8,422.91 L71.3,422.86 L71.8,422.81 L72.3,422.76 L72.8,422.71 L73.3,422.67 L73.8,422.63 L74.3,422.59 L74.8,422.55 L75.3,422.51 L75.8,422.48 L76.3,422.45 L76.8,422.42 L77.3,422.39 L77.8,422.37 L78.3,422.34 L78.8,422.32 L79.3,422.29 L79.8,422.27 L80.3,422.25 L80.8,422.23 L81.3,422.22 L81.8,422.2 L82.3,422.18 L82.8,422.17 L83.3,422.15 L83.8,422.14 L84.3,422.13 L84.8,422.11 L85.3,422.36 L85.6,422.5 L85.6,450.3" fill="none" stroke="#ee22ee" stroke-width="1.3"/>
<path d="M160.8,450.3 L160.8,426.7 L161.3,426.49 L161.8,426.24 L162.3,426.01 L162.8,425.79 L163.3,425.58 L163.8,425.38 L164.3,425.19 L164.8,425.01 L165.3,424.84 L165.8,424.68 L166.3,424.53 L166.8,424.39 L167.3,424.26 L167.8,424.13 L168.3,424.01 L168.8,423.9 L169.3,423.79 L169.8,423.69 L170.3,423.59 L170.8,423.5 L171.3,423.41 L171.8,423.33 L172.3,423.25 L172.8,423.18 L173.3,423.11 L173.8,423.04 L174.3,422.98 L174.8,422.92 L175.3,422.87 L175.8,422.82 L176.3,422.77 L176.8,422.72 L177.3,422.68 L177.8,422.63 L178.3,422.59 L178.8,422.56 L179.3,422.52 L179.8,422.49 L180.3,422.46 L180.8,422.43 L181.3,422.4 L181.8,422.37 L182.3,422.35 L182.8,422.32 L183.3,422.3 L183.8,422.28 L184.3,422.26 L184.8,422.24 L185.3,422.22 L185.8,422.2 L186.3,422.19 L186.8,422.17 L187.3,422.16 L187.8,422.14 L188.3,422.13 L188.8,422.12 L189.3,422.31 L189.6,422.46 L189.6,450.3" fill="none" stroke="#ee22ee" stroke-width="1.3"/>
<path d="M265,450.3 L265,426.65 L265.5,426.39 L266,426.15 L266.5,425.92 L267,425.7 L267.5,425.5 L268,425.3 L268.5,425.12 L269,424.94 L269.5,424.78 L270,424.62 L270.5,424.48 L271,424.34 L271.5,424.21 L272,424.08 L272.5,423.96 L273,423.85 L273.5,423.75 L274,423.65 L274.5,423.55 L275,423.46 L275.5,423.38 L276,423.3 L276.5,423.22 L277,423.15 L277.5,423.08 L278,423.02 L278.5,422.96 L279,422.9 L279.5,422.85 L280,422.8 L280.5,422.75 L281,422.7 L281.5,422.66 L282,422.62 L282.5,422.58 L283,422.54 L283.5,422.51 L284,422.47 L284.5,422.44 L285,422.41 L285.5,422.39 L286,422.36 L286.5,422.34 L287,422.31 L287.5,422.29 L288,422.27 L288.5,422.25 L289,422.23 L289.5,422.21 L290,422.2 L290.5,422.18 L291,422.16 L291.5,422.15 L292,422.14 L292.5,422.12 L293,422.16 L293.5,422.41 L293.8,422.55 L293.8,450.3" fill="none" stroke="#ee22ee" stroke-width="1.3"/>
<path d="M369.3,450.3 L369.3,426.54 L369.8,426.29 L370.3,426.06 L370.8,425.83 L371.3,425.62 L371.8,425.42 L372.3,425.23 L372.8,425.05 L373.3,424.88 L373.8,424.72 L374.3,424.56 L374.8,424.42 L375.3,424.28 L375.8,424.16 L376.3,424.03 L376.8,423.92 L377.3,423.81 L377.8,423.71 L378.3,423.61 L378.8,423.52 L379.3,423.43 L379.8,423.35 L380.3,423.27 L380.8,423.19 L381.3,423.12 L381.8,423.06 L382.3,423 L382.8,422.94 L383.3,422.88 L383.8,422.83 L384.3,422.78 L384.8,422.73 L385.3,422.68 L385.8,422.64 L386.3,422.6 L386.8,422.56 L387.3,422.53 L387.8,422.49 L388.3,422.46 L388.8,422.43 L389.3,422.4 L389.8,422.38 L390.3,422.35 L390.8,422.33 L391.3,422.3 L391.8,422.28 L392.3,422.26 L392.8,422.24 L393.3,422.22 L393.8,422.21 L394.3,422.19 L394.8,422.17 L395.3,422.16 L395.8,422.14 L396.3,422.13 L396.8,422.12 L397.3,422.16 L397.8,422.16 L398,422.16" fill="none" stroke="#ee22ee" stroke-width="1.3"/>
<line x1="85.6" y1="450.5" x2="160.8" y2="450.5" stroke="#ee22ee" stroke-width="1.6" opacity="0.3"/>
<line x1="189.6" y1="450.5" x2="265" y2="450.5" stroke="#ee22ee" stroke-width="1.6" opacity="0.3"/>
<line x1="293.8" y1="450.5" x2="369.3" y2="450.5" stroke="#ee22ee" stroke-width="1.6" opacity="0.3"/>
<text x="46.5" y="355.4" style="font-family:'Liberation Sans',sans-serif;font-style:italic;font-size:11px" fill="#222">I</text>
<text x="43.6" y="399.9" style="font-family:'Liberation Serif',serif;font-style:italic;font-size:11px" fill="#222">&#969;</text>
<text x="45.2" y="439.3" style="font-family:'Liberation Serif',serif;font-style:italic;font-size:11.5px" fill="#222">&#915;</text>
<text x="216.7" y="464" style="font-family:'Liberation Sans',sans-serif;font-size:11.2px" fill="#1a1a1a">Time</text>
<rect x="34.3" y="473.1" width="367.2" height="82.7" fill="#f1f1f1"/>
<text x="35.8" y="483.3" style="font-family:'Liberation Sans',sans-serif;font-weight:bold;font-size:11px" fill="#858585">Case 3</text>
<line x1="56.6" y1="534.6" x2="401.5" y2="534.6" stroke="#111" stroke-width="2"/>
<path d="M57.4,534.1 L57.9,532.13 L58.4,530.26 L58.9,528.5 L59.4,526.83 L59.9,525.25 L60.4,523.75 L60.9,522.34 L61.4,521 L61.9,519.74 L62.4,518.54 L62.9,517.41 L63.4,516.34 L63.9,515.33 L64.4,514.37 L64.9,513.46 L65.4,512.61 L65.9,511.79 L66.4,511.03 L66.9,510.3 L67.4,509.62 L67.9,508.97 L68.4,508.35 L68.9,507.77 L69.4,507.22 L69.9,506.7 L70.4,506.21 L70.9,505.74 L71.4,505.3 L71.9,504.89 L72.4,504.49 L72.9,504.12 L73.4,503.77 L73.9,503.44 L74.4,503.12 L74.9,502.82 L75.4,502.54 L75.9,502.27 L76.4,502.02 L76.9,501.78 L77.4,501.56 L77.9,501.34 L78.4,501.14 L78.9,500.95 L79.4,500.77 L79.9,500.6 L80.4,500.43 L80.9,500.28 L81.4,500.14 L81.9,500 L82.4,499.87 L82.9,499.75 L83.4,499.63 L83.9,499.52 L84.4,499.42 L84.9,499.32 L85.4,499.23 L85.9,499.14 L86.4,499.06 L86.9,498.98 L87.4,498.9 L87.9,498.83 L88.4,498.77 L88.9,498.7 L89.4,498.64 L89.9,498.59 L90.4,498.53 L90.9,498.48 L91.4,498.43 L91.9,498.39 L92.4,498.35 L92.9,498.31 L93.4,498.27 L93.9,498.23 L94.4,498.2 L94.9,498.17 L95.4,498.14 L95.5,498.13 L96,500.07 L96.5,501.91 L97,503.65 L97.5,505.3 L98,506.85 L98.5,508.33 L99,509.72 L99.5,511.04 L100,512.28 L100.5,513.46 L101,514.58 L101.5,515.63 L102,516.63 L102.5,517.57 L103,518.47 L103.5,519.31 L104,520.11 L104.5,520.87 L105,521.58 L105.5,522.26 L106,522.9 L106.5,523.5 L107,524.08 L107.5,524.62 L108,525.13 L108.5,525.62 L109,526.07 L109.5,526.51 L110,526.92 L110.5,527.31 L111,527.67 L111.5,528.02 L112,528.35 L112.5,528.66 L113,528.95 L113.5,529.23 L114,529.49 L114.5,529.74 L115,529.98 L115.5,530.2 L116,530.41 L116.5,530.61 L117,530.8 L117.5,530.98 L118,531.15 L118.5,531.31 L119,531.46 L119.5,531.6 L120,531.74 L120.5,531.86 L121,531.98 L121.5,532.1 L122,532.21 L122.5,532.31 L123,532.41 L123.5,532.5 L124,532.58 L124.5,532.67 L125,532.74 L125.5,532.82 L126,532.89 L126.5,532.95 L127,533.01 L127.5,533.07 L128,533.13 L128.5,533.18 L129,533.23 L129.5,533.28 L130,533.32 L130.5,533.36 L131,533.4 L131.5,533.44 L132,533.48 L132.5,533.51 L133,533.54 L133.5,533.57 L134,533.6 L134.5,533.63 L135,533.65 L135.5,533.68 L136,533.7 L136.5,533.72 L137,533.74 L137.5,533.76 L138,533.78 L138.5,533.8 L139,533.81 L139.5,533.83 L140,533.84 L140.5,533.86 L141,533.87 L141.5,533.88 L142,533.89 L142.5,533.91 L143,533.92 L143.5,533.93 L144,533.94 L144.5,533.94 L145,533.95 L145.5,533.96 L146,533.97 L146.5,533.98 L147,533.98 L147.5,533.99 L148,533.99 L148.5,534 L149,534.01 L149.5,534.01 L150,534.02 L150.5,534.02 L151,534.02 L151.5,534.03 L152,534.03 L152.5,534.04 L153,534.04 L153.5,534.04 L154,534.05 L154.5,534.05 L155,534.05 L155.5,534.05 L156,534.06 L156.5,534.06 L157,534.06 L157.5,534.06 L158,534.07 L158.5,534.07 L159,534.07 L159.5,534.07 L160,534.07 L160.5,534.07 L161,534.08 L161.5,534.08 L162,534.08 L162.5,534.08 L163,534.08 L163.5,534.08 L164,534.08 L164.5,534.08 L165,534.08 L165.5,534.08 L166,534.09 L166.5,534.09 L167,534.09 L167.5,534.09 L168,534.09 L168.5,534.09 L169,534.09 L169.5,534.09 L170,534.09 L170.5,534.09 L170.8,534.09 L171.3,532.12 L171.8,530.25 L172.3,528.49 L172.8,526.82 L173.3,525.24 L173.8,523.75 L174.3,522.33 L174.8,521 L175.3,519.73 L175.8,518.54 L176.3,517.41 L176.8,516.34 L177.3,515.32 L177.8,514.37 L178.3,513.46 L178.8,512.6 L179.3,511.79 L179.8,511.02 L180.3,510.3 L180.8,509.61 L181.3,508.96 L181.8,508.35 L182.3,507.77 L182.8,507.22 L183.3,506.7 L183.8,506.21 L184.3,505.74 L184.8,505.3 L185.3,504.89 L185.8,504.49 L186.3,504.12 L186.8,503.77 L187.3,503.43 L187.8,503.12 L188.3,502.82 L188.8,502.54 L189.3,502.27 L189.8,502.02 L190.3,501.78 L190.8,501.55 L191.3,501.34 L191.8,501.14 L192.3,500.95 L192.8,500.77 L193.3,500.6 L193.8,500.43 L194.3,500.28 L194.8,500.14 L195.3,500 L195.8,499.87 L196.3,499.75 L196.8,499.63 L197.3,499.52 L197.8,499.42 L198.3,499.32 L198.8,499.23 L199.3,499.14 L199.8,499.05 L200.3,498.98 L200.8,498.9 L201.3,498.83 L201.8,498.76 L202.3,498.7 L202.8,498.64 L203.3,498.59 L203.8,498.53 L204.3,498.48 L204.8,498.43 L205.3,498.39 L205.8,498.35 L206.3,498.31 L206.8,498.27 L207.3,498.23 L207.8,498.2 L208.3,498.17 L208.8,498.14 L208.9,498.13 L209.4,500.07 L209.9,501.91 L210.4,503.65 L210.9,505.3 L211.4,506.85 L211.9,508.33 L212.4,509.72 L212.9,511.04 L213.4,512.28 L213.9,513.46 L214.4,514.58 L214.9,515.63 L215.4,516.63 L215.9,517.57 L216.4,518.47 L216.9,519.31 L217.4,520.11 L217.9,520.87 L218.4,521.58 L218.9,522.26 L219.4,522.9 L219.9,523.5 L220.4,524.08 L220.9,524.62 L221.4,525.13 L221.9,525.62 L222.4,526.07 L222.9,526.51 L223.4,526.92 L223.9,527.31 L224.4,527.67 L224.9,528.02 L225.4,528.35 L225.9,528.66 L226.4,528.95 L226.9,529.23 L227.4,529.49 L227.9,529.74 L228.4,529.98 L228.9,530.2 L229.4,530.41 L229.9,530.61 L230.4,530.8 L230.9,530.98 L231.4,531.15 L231.9,531.31 L232.4,531.46 L232.9,531.6 L233.4,531.74 L233.9,531.86 L234.4,531.98 L234.9,532.1 L235.4,532.21 L235.9,532.31 L236.4,532.41 L236.9,532.5 L237.4,532.58 L237.9,532.67 L238.4,532.74 L238.9,532.82 L239.4,532.89 L239.9,532.95 L240.4,533.01 L240.9,533.07 L241.4,533.13 L241.9,533.18 L242.4,533.23 L242.9,533.28 L243.4,533.32 L243.9,533.36 L244.4,533.4 L244.9,533.44 L245.4,533.48 L245.9,533.51 L246.4,533.54 L246.9,533.57 L247.4,533.6 L247.9,533.63 L248.4,533.65 L248.9,533.68 L249.4,533.7 L249.9,533.72 L250.4,533.74 L250.9,533.76 L251.4,533.78 L251.9,533.8 L252.4,533.81 L252.9,533.83 L253.4,533.84 L253.9,533.86 L254.4,533.87 L254.9,533.88 L255.4,533.89 L255.9,533.91 L256.4,533.92 L256.9,533.93 L257.4,533.94 L257.9,533.94 L258.4,533.95 L258.9,533.96 L259.4,533.97 L259.9,533.98 L260.4,533.98 L260.9,533.99 L261.4,533.99 L261.9,534 L262.4,534.01 L262.9,534.01 L263.4,534.02 L263.9,534.02 L264.4,534.02 L264.9,534.03 L265.4,534.03 L265.9,534.04 L266.4,534.04 L266.9,534.04 L267.4,534.05 L267.9,534.05 L268.4,534.05 L268.9,534.05 L269.4,534.06 L269.9,534.06 L270.4,534.06 L270.9,534.06 L271.4,534.07 L271.9,534.07 L272.4,534.07 L272.9,534.07 L273.4,534.07 L273.9,534.07 L274.4,534.08 L274.9,534.08 L275.4,534.08 L275.9,534.08 L276.4,534.08 L276.9,534.08 L277.4,534.08 L277.9,534.08 L278.4,534.08 L278.9,534.08 L279.4,534.09 L279.9,534.09 L280.4,534.09 L280.9,534.09 L281.4,534.09 L281.9,534.09 L282.4,534.09 L282.9,534.09 L283.4,534.09 L283.9,534.09 L284.3,534.09 L284.8,532.12 L285.3,530.25 L285.8,528.49 L286.3,526.82 L286.8,525.24 L287.3,523.75 L287.8,522.33 L288.3,521 L288.8,519.73 L289.3,518.54 L289.8,517.41 L290.3,516.34 L290.8,515.32 L291.3,514.37 L291.8,513.46 L292.3,512.6 L292.8,511.79 L293.3,511.02 L293.8,510.3 L294.3,509.61 L294.8,508.96 L295.3,508.35 L295.8,507.77 L296.3,507.22 L296.8,506.7 L297.3,506.21 L297.8,505.74 L298.3,505.3 L298.8,504.89 L299.3,504.49 L299.8,504.12 L300.3,503.77 L300.8,503.43 L301.3,503.12 L301.8,502.82 L302.3,502.54 L302.8,502.27 L303.3,502.02 L303.8,501.78 L304.3,501.55 L304.8,501.34 L305.3,501.14 L305.8,500.95 L306.3,500.77 L306.8,500.6 L307.3,500.43 L307.8,500.28 L308.3,500.14 L308.8,500 L309.3,499.87 L309.8,499.75 L310.3,499.63 L310.8,499.52 L311.3,499.42 L311.8,499.32 L312.3,499.23 L312.8,499.14 L313.3,499.05 L313.8,498.98 L314.3,498.9 L314.8,498.83 L315.3,498.76 L315.8,498.7 L316.3,498.64 L316.8,498.59 L317.3,498.53 L317.8,498.48 L318.3,498.43 L318.8,498.39 L319.3,498.35 L319.8,498.31 L320.3,498.27 L320.8,498.23 L321.3,498.2 L321.8,498.17 L322.3,498.14 L322.4,498.13 L322.9,500.07 L323.4,501.91 L323.9,503.65 L324.4,505.3 L324.9,506.85 L325.4,508.33 L325.9,509.72 L326.4,511.04 L326.9,512.28 L327.4,513.46 L327.9,514.58 L328.4,515.63 L328.9,516.63 L329.4,517.57 L329.9,518.47 L330.4,519.31 L330.9,520.11 L331.4,520.87 L331.9,521.58 L332.4,522.26 L332.9,522.9 L333.4,523.5 L333.9,524.08 L334.4,524.62 L334.9,525.13 L335.4,525.62 L335.9,526.07 L336.4,526.51 L336.9,526.92 L337.4,527.31 L337.9,527.67 L338.4,528.02 L338.9,528.35 L339.4,528.66 L339.9,528.95 L340.4,529.23 L340.9,529.49 L341.4,529.74 L341.9,529.98 L342.4,530.2 L342.9,530.41 L343.4,530.61 L343.9,530.8 L344.4,530.98 L344.9,531.15 L345.4,531.31 L345.9,531.46 L346.4,531.6 L346.9,531.74 L347.4,531.86 L347.9,531.98 L348.4,532.1 L348.9,532.21 L349.4,532.31 L349.9,532.41 L350.4,532.5 L350.9,532.58 L351.4,532.67 L351.9,532.74 L352.4,532.82 L352.9,532.89 L353.4,532.95 L353.9,533.01 L354.4,533.07 L354.9,533.13 L355.4,533.18 L355.9,533.23 L356.4,533.28 L356.9,533.32 L357.4,533.36 L357.9,533.4 L358.4,533.44 L358.9,533.48 L359.4,533.51 L359.9,533.54 L360.4,533.57 L360.9,533.6 L361.4,533.63 L361.9,533.65 L362.4,533.68 L362.9,533.7 L363.4,533.72 L363.9,533.74 L364.4,533.76 L364.9,533.78 L365.4,533.8 L365.9,533.81 L366.4,533.83 L366.9,533.84 L367.4,533.86 L367.9,533.87 L368.4,533.88 L368.9,533.89 L369.4,533.91 L369.9,533.92 L370.4,533.93 L370.9,533.94 L371.4,533.94 L371.9,533.95 L372.4,533.96 L372.9,533.97 L373.4,533.98 L373.9,533.98 L374.4,533.99 L374.9,533.99 L375.4,534 L375.9,534.01 L376.4,534.01 L376.9,534.02 L377.4,534.02 L377.9,534.02 L378.4,534.03 L378.9,534.03 L379.4,534.04 L379.9,534.04 L380.4,534.04 L380.9,534.05 L381.4,534.05 L381.9,534.05 L382.4,534.05 L382.9,534.06 L383.4,534.06 L383.9,534.06 L384.4,534.06 L384.9,534.07 L385.4,534.07 L385.9,534.07 L386.4,534.07 L386.9,534.07 L387.4,534.07 L387.9,534.08 L388.4,534.08 L388.9,534.08 L389.4,534.08 L389.9,534.08 L390.4,534.08 L390.9,534.08 L391.4,534.08 L391.9,534.08 L392.4,534.08 L392.9,534.09 L393.4,534.09 L393.9,534.09 L394.4,534.09 L394.9,534.09 L395.4,534.09 L395.9,534.09 L396.4,534.09 L396.9,534.09 L397.4,534.09 L397.9,534.09 L398,534.09" fill="none" stroke="#e32222" stroke-width="1.3"/>
<text x="38.6" y="518.2" style="font-family:'Liberation Serif',serif;font-style:italic;font-size:11.5px" fill="#222">&#916;T</text>
<text x="216.7" y="548.2" style="font-family:'Liberation Sans',sans-serif;font-size:11.2px" fill="#1a1a1a">Time</text>
<path d="M57.2,593.3 L57.2,569.4 L57.7,569.69 L58.2,569.96 L58.7,570.21 L59.2,570.46 L59.7,570.69 L60.2,570.9 L60.7,571.11 L61.2,571.3 L61.7,571.49 L62.2,571.66 L62.7,571.82 L63.2,571.98 L63.7,572.13 L64.2,572.27 L64.7,572.4 L65.2,572.52 L65.7,572.64 L66.2,572.75 L66.7,572.86 L67.2,572.96 L67.7,573.05 L68.2,573.14 L68.7,573.22 L69.2,573.3 L69.7,573.38 L70.2,573.45 L70.7,573.52 L71.2,573.58 L71.7,573.64 L72.2,573.7 L72.7,573.75 L73.2,573.8 L73.7,573.85 L74.2,573.9 L74.7,573.94 L75.2,573.98 L75.7,574.02 L76.2,574.06 L76.7,574.09 L77.2,574.13 L77.7,574.16 L78.2,574.19 L78.7,574.21 L79.2,574.24 L79.7,574.26 L80.2,574.29 L80.7,574.31 L81.2,574.33 L81.7,574.35 L82.2,574.37 L82.7,574.39 L83.2,574.41 L83.7,574.42 L84.2,574.44 L84.7,574.45 L85.2,574.46 L85.7,574.48 L86.2,574.49 L86.7,574.5 L87.2,574.51 L87.7,574.52 L88.2,574.53 L88.7,574.54 L89.2,574.55 L89.7,574.56 L90.2,574.56 L90.7,574.57 L91.2,574.58 L91.7,574.59 L92.2,574.59 L92.7,574.6 L93.2,574.6 L93.7,574.61 L94.2,574.61 L94.7,574.62 L95.2,574.62 L95.3,574.62 L95.3,593.3" fill="none" stroke="#3b8f3b" stroke-width="1.3"/>
<path d="M170.6,593.3 L170.6,569.4 L171.1,569.69 L171.6,569.96 L172.1,570.21 L172.6,570.46 L173.1,570.69 L173.6,570.9 L174.1,571.11 L174.6,571.3 L175.1,571.49 L175.6,571.66 L176.1,571.82 L176.6,571.98 L177.1,572.13 L177.6,572.27 L178.1,572.4 L178.6,572.52 L179.1,572.64 L179.6,572.75 L180.1,572.86 L180.6,572.96 L181.1,573.05 L181.6,573.14 L182.1,573.22 L182.6,573.3 L183.1,573.38 L183.6,573.45 L184.1,573.52 L184.6,573.58 L185.1,573.64 L185.6,573.7 L186.1,573.75 L186.6,573.8 L187.1,573.85 L187.6,573.9 L188.1,573.94 L188.6,573.98 L189.1,574.02 L189.6,574.06 L190.1,574.09 L190.6,574.13 L191.1,574.16 L191.6,574.19 L192.1,574.21 L192.6,574.24 L193.1,574.27 L193.6,574.29 L194.1,574.31 L194.6,574.33 L195.1,574.35 L195.6,574.37 L196.1,574.39 L196.6,574.41 L197.1,574.42 L197.6,574.44 L198.1,574.45 L198.6,574.46 L199.1,574.48 L199.6,574.49 L200.1,574.5 L200.6,574.51 L201.1,574.52 L201.6,574.53 L202.1,574.54 L202.6,574.55 L203.1,574.56 L203.6,574.56 L204.1,574.57 L204.6,574.58 L205.1,574.59 L205.6,574.59 L206.1,574.6 L206.6,574.6 L207.1,574.61 L207.6,574.61 L208.1,574.62 L208.6,574.62 L208.7,574.62 L208.7,593.3" fill="none" stroke="#3b8f3b" stroke-width="1.3"/>
<path d="M284.3,593.3 L284.3,569.52 L284.8,569.8 L285.3,570.06 L285.8,570.31 L286.3,570.55 L286.8,570.77 L287.3,570.99 L287.8,571.19 L288.3,571.38 L288.8,571.56 L289.3,571.73 L289.8,571.89 L290.3,572.04 L290.8,572.18 L291.3,572.32 L291.8,572.45 L292.3,572.57 L292.8,572.68 L293.3,572.79 L293.8,572.9 L294.3,572.99 L294.8,573.09 L295.3,573.17 L295.8,573.26 L296.3,573.33 L296.8,573.41 L297.3,573.48 L297.8,573.54 L298.3,573.61 L298.8,573.66 L299.3,573.72 L299.8,573.77 L300.3,573.82 L300.8,573.87 L301.3,573.92 L301.8,573.96 L302.3,574 L302.8,574.04 L303.3,574.07 L303.8,574.11 L304.3,574.14 L304.8,574.17 L305.3,574.2 L305.8,574.22 L306.3,574.25 L306.8,574.27 L307.3,574.3 L307.8,574.32 L308.3,574.34 L308.8,574.36 L309.3,574.38 L309.8,574.4 L310.3,574.41 L310.8,574.43 L311.3,574.44 L311.8,574.46 L312.3,574.47 L312.8,574.48 L313.3,574.49 L313.8,574.5 L314.3,574.52 L314.8,574.53 L315.3,574.53 L315.8,574.54 L316.3,574.55 L316.8,574.56 L317.3,574.57 L317.8,574.57 L318.3,574.58 L318.8,574.59 L319.3,574.59 L319.8,574.6 L320.3,574.61 L320.8,574.61 L321.3,574.62 L321.8,574.62 L322.3,574.57 L322.4,574.51 L322.4,593.3" fill="none" stroke="#3b8f3b" stroke-width="1.3"/>
<line x1="95.3" y1="593.3" x2="170.6" y2="593.3" stroke="#5aad5a" stroke-width="1"/>
<line x1="208.7" y1="593.3" x2="284.3" y2="593.3" stroke="#5aad5a" stroke-width="1"/>
<line x1="322.4" y1="593.3" x2="398" y2="593.3" stroke="#5aad5a" stroke-width="1"/>
<path d="M57.2,637.2 L57.2,612.8 L57.7,612.95 L58.2,613.09 L58.7,613.23 L59.2,613.36 L59.7,613.48 L60.2,613.59 L60.7,613.7 L61.2,613.8 L61.7,613.9 L62.2,613.99 L62.7,614.08 L63.2,614.16 L63.7,614.24 L64.2,614.31 L64.7,614.38 L65.2,614.45 L65.7,614.51 L66.2,614.57 L66.7,614.63 L67.2,614.68 L67.7,614.73 L68.2,614.78 L68.7,614.82 L69.2,614.86 L69.7,614.9 L70.2,614.94 L70.7,614.98 L71.2,615.01 L71.7,615.04 L72.2,615.07 L72.7,615.1 L73.2,615.13 L73.7,615.15 L74.2,615.18 L74.7,615.2 L75.2,615.22 L75.7,615.24 L76.2,615.26 L76.7,615.28 L77.2,615.3 L77.7,615.31 L78.2,615.33 L78.7,615.34 L79.2,615.36 L79.7,615.37 L80.2,615.38 L80.7,615.39 L81.2,615.41 L81.7,615.42 L82.2,615.43 L82.7,615.44 L83.2,615.44 L83.7,615.45 L84.2,615.46 L84.7,615.47 L85.2,615.48 L85.7,615.48 L86.2,615.49 L86.7,615.49 L87.2,615.5 L87.7,615.51 L88.2,615.51 L88.7,615.52 L89.2,615.52 L89.7,615.52 L90.2,615.53 L90.7,615.53 L91.2,615.54 L91.7,615.54 L92.2,615.54 L92.7,615.55 L93.2,615.55 L93.7,615.55 L94.2,615.55 L94.7,615.56 L95.2,615.56 L95.3,615.56 L95.3,637.2" fill="none" stroke="#3232d8" stroke-width="1.3"/>
<path d="M170.6,637.2 L170.6,612.8 L171.1,612.95 L171.6,613.1 L172.1,613.23 L172.6,613.36 L173.1,613.48 L173.6,613.59 L174.1,613.7 L174.6,613.81 L175.1,613.9 L175.6,613.99 L176.1,614.08 L176.6,614.16 L177.1,614.24 L177.6,614.31 L178.1,614.38 L178.6,614.45 L179.1,614.51 L179.6,614.57 L180.1,614.63 L180.6,614.68 L181.1,614.73 L181.6,614.78 L182.1,614.82 L182.6,614.86 L183.1,614.9 L183.6,614.94 L184.1,614.98 L184.6,615.01 L185.1,615.04 L185.6,615.07 L186.1,615.1 L186.6,615.13 L187.1,615.15 L187.6,615.18 L188.1,615.2 L188.6,615.22 L189.1,615.24 L189.6,615.26 L190.1,615.28 L190.6,615.3 L191.1,615.31 L191.6,615.33 L192.1,615.34 L192.6,615.36 L193.1,615.37 L193.6,615.38 L194.1,615.39 L194.6,615.41 L195.1,615.42 L195.6,615.43 L196.1,615.44 L196.6,615.44 L197.1,615.45 L197.6,615.46 L198.1,615.47 L198.6,615.48 L199.1,615.48 L199.6,615.49 L200.1,615.49 L200.6,615.5 L201.1,615.51 L201.6,615.51 L202.1,615.52 L202.6,615.52 L203.1,615.52 L203.6,615.53 L204.1,615.53 L204.6,615.54 L205.1,615.54 L205.6,615.54 L206.1,615.55 L206.6,615.55 L207.1,615.55 L207.6,615.55 L208.1,615.56 L208.6,615.56 L208.7,615.56 L208.7,637.2" fill="none" stroke="#3232d8" stroke-width="1.3"/>
<path d="M284.3,637.2 L284.3,612.86 L284.8,613.01 L285.3,613.15 L285.8,613.28 L286.3,613.41 L286.8,613.53 L287.3,613.64 L287.8,613.74 L288.3,613.84 L288.8,613.94 L289.3,614.03 L289.8,614.11 L290.3,614.19 L290.8,614.27 L291.3,614.34 L291.8,614.41 L292.3,614.47 L292.8,614.53 L293.3,614.59 L293.8,614.65 L294.3,614.7 L294.8,614.75 L295.3,614.79 L295.8,614.84 L296.3,614.88 L296.8,614.92 L297.3,614.95 L297.8,614.99 L298.3,615.02 L298.8,615.05 L299.3,615.08 L299.8,615.11 L300.3,615.14 L300.8,615.16 L301.3,615.19 L301.8,615.21 L302.3,615.23 L302.8,615.25 L303.3,615.27 L303.8,615.29 L304.3,615.3 L304.8,615.32 L305.3,615.33 L305.8,615.35 L306.3,615.36 L306.8,615.38 L307.3,615.39 L307.8,615.4 L308.3,615.41 L308.8,615.42 L309.3,615.43 L309.8,615.44 L310.3,615.45 L310.8,615.46 L311.3,615.46 L311.8,615.47 L312.3,615.48 L312.8,615.48 L313.3,615.49 L313.8,615.5 L314.3,615.5 L314.8,615.51 L315.3,615.51 L315.8,615.52 L316.3,615.52 L316.8,615.53 L317.3,615.53 L317.8,615.53 L318.3,615.54 L318.8,615.54 L319.3,615.54 L319.8,615.55 L320.3,615.55 L320.8,615.55 L321.3,615.56 L321.8,615.56 L322.3,615.53 L322.4,615.5 L322.4,637.2" fill="none" stroke="#3232d8" stroke-width="1.3"/>
<line x1="95.3" y1="637.2" x2="170.6" y2="637.2" stroke="#8080f0" stroke-width="1"/>
<line x1="208.7" y1="637.2" x2="284.3" y2="637.2" stroke="#8080f0" stroke-width="1"/>
<line x1="322.4" y1="637.2" x2="398" y2="637.2" stroke="#8080f0" stroke-width="1"/>
<line x1="56.4" y1="681" x2="401.5" y2="681" stroke="#151515" stroke-width="2"/>
<path d="M57.2,680.6 L57.2,656.2 L57.7,655.94 L58.2,655.7 L58.7,655.46 L59.2,655.24 L59.7,655.04 L60.2,654.84 L60.7,654.65 L61.2,654.48 L61.7,654.31 L62.2,654.15 L62.7,654.01 L63.2,653.86 L63.7,653.73 L64.2,653.61 L64.7,653.49 L65.2,653.37 L65.7,653.27 L66.2,653.17 L66.7,653.07 L67.2,652.98 L67.7,652.89 L68.2,652.81 L68.7,652.74 L69.2,652.67 L69.7,652.6 L70.2,652.53 L70.7,652.47 L71.2,652.41 L71.7,652.36 L72.2,652.31 L72.7,652.26 L73.2,652.21 L73.7,652.17 L74.2,652.13 L74.7,652.09 L75.2,652.05 L75.7,652.01 L76.2,651.98 L76.7,651.95 L77.2,651.92 L77.7,651.89 L78.2,651.87 L78.7,651.84 L79.2,651.82 L79.7,651.79 L80.2,651.77 L80.7,651.75 L81.2,651.73 L81.7,651.72 L82.2,651.7 L82.7,651.68 L83.2,651.67 L83.7,651.65 L84.2,651.64 L84.7,651.63 L85.2,651.61 L85.7,651.6 L86.2,651.59 L86.7,651.58 L87.2,651.57 L87.7,651.56 L88.2,651.55 L88.7,651.54 L89.2,651.54 L89.7,651.53 L90.2,651.52 L90.7,651.52 L91.2,651.51 L91.7,651.5 L92.2,651.5 L92.7,651.49 L93.2,651.49 L93.7,651.48 L94.2,651.48 L94.7,651.47 L95.2,651.47 L95.3,651.47 L95.3,680.6" fill="none" stroke="#ee22ee" stroke-width="1.3"/>
<path d="M170.6,680.6 L170.6,656.2 L171.1,655.94 L171.6,655.69 L172.1,655.46 L172.6,655.24 L173.1,655.03 L173.6,654.84 L174.1,654.65 L174.6,654.48 L175.1,654.31 L175.6,654.15 L176.1,654 L176.6,653.86 L177.1,653.73 L177.6,653.6 L178.1,653.49 L178.6,653.37 L179.1,653.27 L179.6,653.17 L180.1,653.07 L180.6,652.98 L181.1,652.89 L181.6,652.81 L182.1,652.74 L182.6,652.66 L183.1,652.6 L183.6,652.53 L184.1,652.47 L184.6,652.41 L185.1,652.36 L185.6,652.31 L186.1,652.26 L186.6,652.21 L187.1,652.17 L187.6,652.13 L188.1,652.09 L188.6,652.05 L189.1,652.01 L189.6,651.98 L190.1,651.95 L190.6,651.92 L191.1,651.89 L191.6,651.87 L192.1,651.84 L192.6,651.82 L193.1,651.79 L193.6,651.77 L194.1,651.75 L194.6,651.73 L195.1,651.72 L195.6,651.7 L196.1,651.68 L196.6,651.67 L197.1,651.65 L197.6,651.64 L198.1,651.63 L198.6,651.61 L199.1,651.6 L199.6,651.59 L200.1,651.58 L200.6,651.57 L201.1,651.56 L201.6,651.55 L202.1,651.54 L202.6,651.54 L203.1,651.53 L203.6,651.52 L204.1,651.52 L204.6,651.51 L205.1,651.5 L205.6,651.5 L206.1,651.49 L206.6,651.49 L207.1,651.48 L207.6,651.48 L208.1,651.47 L208.6,651.47 L208.7,651.47 L208.7,680.6" fill="none" stroke="#ee22ee" stroke-width="1.3"/>
<path d="M284.3,680.6 L284.3,656.1 L284.8,655.84 L285.3,655.6 L285.8,655.37 L286.3,655.16 L286.8,654.96 L287.3,654.76 L287.8,654.58 L288.3,654.41 L288.8,654.25 L289.3,654.09 L289.8,653.95 L290.3,653.81 L290.8,653.68 L291.3,653.56 L291.8,653.44 L292.3,653.33 L292.8,653.23 L293.3,653.13 L293.8,653.03 L294.3,652.95 L294.8,652.86 L295.3,652.78 L295.8,652.71 L296.3,652.64 L296.8,652.57 L297.3,652.51 L297.8,652.45 L298.3,652.39 L298.8,652.34 L299.3,652.29 L299.8,652.24 L300.3,652.19 L300.8,652.15 L301.3,652.11 L301.8,652.07 L302.3,652.04 L302.8,652 L303.3,651.97 L303.8,651.94 L304.3,651.91 L304.8,651.88 L305.3,651.86 L305.8,651.83 L306.3,651.81 L306.8,651.79 L307.3,651.76 L307.8,651.74 L308.3,651.73 L308.8,651.71 L309.3,651.69 L309.8,651.68 L310.3,651.66 L310.8,651.65 L311.3,651.63 L311.8,651.62 L312.3,651.61 L312.8,651.6 L313.3,651.59 L313.8,651.58 L314.3,651.57 L314.8,651.56 L315.3,651.55 L315.8,651.54 L316.3,651.53 L316.8,651.53 L317.3,651.52 L317.8,651.51 L318.3,651.51 L318.8,651.5 L319.3,651.5 L319.8,651.49 L320.3,651.49 L320.8,651.48 L321.3,651.48 L321.8,651.47 L322.3,651.52 L322.4,651.57 L322.4,680.6" fill="none" stroke="#ee22ee" stroke-width="1.3"/>
<line x1="95.3" y1="680.8" x2="170.6" y2="680.8" stroke="#ee22ee" stroke-width="1.6" opacity="0.3"/>
<line x1="208.7" y1="680.8" x2="284.3" y2="680.8" stroke="#ee22ee" stroke-width="1.6" opacity="0.3"/>
<line x1="322.4" y1="680.8" x2="398" y2="680.8" stroke="#ee22ee" stroke-width="1.6" opacity="0.3"/>
<text x="45" y="582.6" style="font-family:'Liberation Sans',sans-serif;font-style:italic;font-size:11px" fill="#222">I</text>
<text x="42" y="629" style="font-family:'Liberation Serif',serif;font-style:italic;font-size:11px" fill="#222">&#969;</text>
<text x="43" y="669.6" style="font-family:'Liberation Serif',serif;font-style:italic;font-size:11.5px" fill="#222">&#915;</text>
<text x="216.7" y="694.4" style="font-family:'Liberation Sans',sans-serif;font-size:11.2px" fill="#1a1a1a">Time</text>
<line x1="75.4" y1="28" x2="75.4" y2="451" stroke="#5a7db4" stroke-width="1" stroke-dasharray="2,1.1"/>
<line x1="85.7" y1="258" x2="85.7" y2="681" stroke="#5a7db4" stroke-width="1" stroke-dasharray="2,1.1"/>
<line x1="95.1" y1="488" x2="95.1" y2="681" stroke="#5a7db4" stroke-width="1" stroke-dasharray="2,1.1"/>
<rect x="57.2" y="28" width="18.2" height="45.8" fill="#2ec473" fill-opacity="0.32"/>
<rect x="152.3" y="28" width="18.2" height="45.8" fill="#2ec473" fill-opacity="0.32"/>
<rect x="247.2" y="28" width="18.2" height="45.8" fill="#2ec473" fill-opacity="0.32"/>
<rect x="342" y="28" width="18.2" height="45.8" fill="#2ec473" fill-opacity="0.32"/>
<rect x="57.7" y="258.2" width="28" height="45.3" fill="#2ec473" fill-opacity="0.32"/>
<rect x="161.8" y="258.2" width="28" height="45.3" fill="#2ec473" fill-opacity="0.32"/>
<rect x="265.8" y="258.2" width="28" height="45.3" fill="#2ec473" fill-opacity="0.32"/>
<rect x="369.9" y="258.2" width="28" height="45.3" fill="#2ec473" fill-opacity="0.32"/>
<rect x="57.4" y="488.2" width="38.1" height="45.5" fill="#2ec473" fill-opacity="0.32"/>
<rect x="170.8" y="488.2" width="38.1" height="45.5" fill="#2ec473" fill-opacity="0.32"/>
<rect x="284.3" y="488.2" width="38.1" height="45.5" fill="#2ec473" fill-opacity="0.32"/>
<polygon points="402.8,132.7 410.8,132.7 410.8,125.4 428.5,167 410.8,208.9 410.8,201.6 402.8,201.6" fill="#d6f1e4"/>
<polygon points="402.8,359.8 410.8,359.8 410.8,352.5 429.5,393 410.8,437.2 410.8,429.4 402.8,429.4" fill="#d6f1e4"/>
<polygon points="402.8,592 410.8,592 410.8,584.8 428.5,626.2 410.8,668.1 410.8,661 402.8,661" fill="#d6f1e4"/>
<line x1="157.2" y1="33.2" x2="166" y2="33.2" stroke="#a3bedc" stroke-width="1.6"/>
<polygon points="152.9,33.2 157.7,30.8 157.7,35.6" fill="#4674bf"/>
<polygon points="170.3,33.2 165.5,30.8 165.5,35.6" fill="#4674bf"/>
<line x1="175.4" y1="33" x2="241.9" y2="33" stroke="#a3bedc" stroke-width="1.6"/>
<polygon points="171.1,33 175.9,30.6 175.9,35.4" fill="#4674bf"/>
<polygon points="246.2,33 241.4,30.6 241.4,35.4" fill="#4674bf"/>
<text transform="translate(157.3,25.0) scale(1,1.04)" style="font-family:'Liberation Serif',serif;font-style:italic;font-size:14px" fill="#222">t</text>
<text x="160.8" y="28.6" style="font-family:'Liberation Sans',sans-serif;font-weight:bold;font-size:7.5px" fill="#222">e</text>
<text transform="translate(204.5,25.0) scale(1,1.04)" style="font-family:'Liberation Serif',serif;font-style:italic;font-size:14px" fill="#222">t</text>
<text x="207.6" y="29.3" style="font-family:'Liberation Sans',sans-serif;font-weight:bold;font-size:7px" fill="#222">r</text>
<line x1="66.3" y1="315.8" x2="71.9" y2="315.8" stroke="#4a7cc6" stroke-width="1.1"/>
<polygon points="74.9,315.8 70.4,313.4 70.4,318.2" fill="#4a7cc6"/>
<line x1="88.9" y1="315.8" x2="97.1" y2="315.8" stroke="#4a7cc6" stroke-width="1.1"/>
<polygon points="85.9,315.8 90.4,313.4 90.4,318.2" fill="#4a7cc6"/>
<text x="102" y="319.1" style="font-family:'Liberation Serif',serif;font-size:11.5px" fill="#222">&#916;</text>
<text transform="translate(109.2,319.2) scale(1,1.15)" style="font-family:'Liberation Serif',serif;font-style:italic;font-size:13.5px" fill="#222">t</text>
<text x="112.2" y="322.7" style="font-family:'Liberation Sans',sans-serif;font-weight:bold;font-size:7.5px" fill="#222">e</text>
<line x1="76.2" y1="544.9" x2="82.5" y2="544.9" stroke="#4a7cc6" stroke-width="1.1"/>
<polygon points="85.5,544.9 81,542.5 81,547.3" fill="#4a7cc6"/>
<line x1="98.4" y1="544.9" x2="106.3" y2="544.9" stroke="#4a7cc6" stroke-width="1.1"/>
<polygon points="95.4,544.9 99.9,542.5 99.9,547.3" fill="#4a7cc6"/>
<text x="108.4" y="548.2" style="font-family:'Liberation Serif',serif;font-size:11.5px" fill="#222">&#916;</text>
<text transform="translate(115.6,548.3) scale(1,1.15)" style="font-family:'Liberation Serif',serif;font-style:italic;font-size:13.5px" fill="#222">t</text>
<text x="118.6" y="551.8" style="font-family:'Liberation Sans',sans-serif;font-weight:bold;font-size:7.5px" fill="#222">e</text>
<text x="435.5" y="26.7" style="font-family:'Liberation Sans',sans-serif;font-size:12.4px;font-weight:bold" fill="#111">(b)</text>
<text x="455.0" y="26.7" textLength="139.4" lengthAdjust="spacingAndGlyphs" style="font-family:'Liberation Sans',sans-serif;font-size:12.2px" fill="#111">Temporally-accumulative</text>
<text x="472.4" y="43.2" textLength="85" lengthAdjust="spacingAndGlyphs" style="font-family:'Liberation Sans',sans-serif;font-size:12.2px" fill="#111">Raman spectra</text>
<clipPath id="c110"><rect x="458.6" y="108.1" width="137.8" height="92.8"/></clipPath>
<path d="M458.6,197.99 L463.19,197.81 L471.46,197.81 L476.97,198.18 L481.57,197.99 L489.15,196.9 L493.74,197.99 L498.79,196.18 L505.22,193.09 L509.13,187.64 L513.72,177.47 L517.62,167.12 L521.76,156.59 L524.51,152.41 L527.04,150.05 L530.26,152.41 L534.62,159.31 L539.21,170.57 L543.81,182.01 L547.71,189.82 L551.84,195.09 L558.5,197.27 L564.94,198.36 L572.51,198.9 L578.03,198.72 L586.75,199.08 L591.81,198.9 L596.4,199.45" fill="none" stroke="#e32626" stroke-width="1.5" stroke-linejoin="round" clip-path="url(#c110)"/>
<line x1="458.6" y1="200.9" x2="458.6" y2="196.9" stroke="#5a5a5a" stroke-width="1"/>
<line x1="458.6" y1="110.1" x2="458.6" y2="114.1" stroke="#5a5a5a" stroke-width="1"/>
<text x="458.6" y="212.9" text-anchor="middle" style="font-family:'Liberation Sans',sans-serif;font-size:9.2px" fill="#222">490</text>
<line x1="470.08" y1="200.9" x2="470.08" y2="198.9" stroke="#5a5a5a" stroke-width="1"/>
<line x1="470.08" y1="110.1" x2="470.08" y2="112.1" stroke="#5a5a5a" stroke-width="1"/>
<line x1="481.57" y1="200.9" x2="481.57" y2="196.9" stroke="#5a5a5a" stroke-width="1"/>
<line x1="481.57" y1="110.1" x2="481.57" y2="114.1" stroke="#5a5a5a" stroke-width="1"/>
<text x="481.57" y="212.9" text-anchor="middle" style="font-family:'Liberation Sans',sans-serif;font-size:9.2px" fill="#222">500</text>
<line x1="493.05" y1="200.9" x2="493.05" y2="198.9" stroke="#5a5a5a" stroke-width="1"/>
<line x1="493.05" y1="110.1" x2="493.05" y2="112.1" stroke="#5a5a5a" stroke-width="1"/>
<line x1="504.53" y1="200.9" x2="504.53" y2="196.9" stroke="#5a5a5a" stroke-width="1"/>
<line x1="504.53" y1="110.1" x2="504.53" y2="114.1" stroke="#5a5a5a" stroke-width="1"/>
<text x="504.53" y="212.9" text-anchor="middle" style="font-family:'Liberation Sans',sans-serif;font-size:9.2px" fill="#222">510</text>
<line x1="516.02" y1="200.9" x2="516.02" y2="198.9" stroke="#5a5a5a" stroke-width="1"/>
<line x1="516.02" y1="110.1" x2="516.02" y2="112.1" stroke="#5a5a5a" stroke-width="1"/>
<line x1="527.5" y1="200.9" x2="527.5" y2="196.9" stroke="#5a5a5a" stroke-width="1"/>
<line x1="527.5" y1="110.1" x2="527.5" y2="114.1" stroke="#5a5a5a" stroke-width="1"/>
<text x="527.5" y="212.9" text-anchor="middle" style="font-family:'Liberation Sans',sans-serif;font-size:9.2px" fill="#222">520</text>
<line x1="538.98" y1="200.9" x2="538.98" y2="198.9" stroke="#5a5a5a" stroke-width="1"/>
<line x1="538.98" y1="110.1" x2="538.98" y2="112.1" stroke="#5a5a5a" stroke-width="1"/>
<line x1="550.47" y1="200.9" x2="550.47" y2="196.9" stroke="#5a5a5a" stroke-width="1"/>
<line x1="550.47" y1="110.1" x2="550.47" y2="114.1" stroke="#5a5a5a" stroke-width="1"/>
<text x="550.47" y="212.9" text-anchor="middle" style="font-family:'Liberation Sans',sans-serif;font-size:9.2px" fill="#222">530</text>
<line x1="561.95" y1="200.9" x2="561.95" y2="198.9" stroke="#5a5a5a" stroke-width="1"/>
<line x1="561.95" y1="110.1" x2="561.95" y2="112.1" stroke="#5a5a5a" stroke-width="1"/>
<line x1="573.43" y1="200.9" x2="573.43" y2="196.9" stroke="#5a5a5a" stroke-width="1"/>
<line x1="573.43" y1="110.1" x2="573.43" y2="114.1" stroke="#5a5a5a" stroke-width="1"/>
<text x="573.43" y="212.9" text-anchor="middle" style="font-family:'Liberation Sans',sans-serif;font-size:9.2px" fill="#222">540</text>
<line x1="584.92" y1="200.9" x2="584.92" y2="198.9" stroke="#5a5a5a" stroke-width="1"/>
<line x1="584.92" y1="110.1" x2="584.92" y2="112.1" stroke="#5a5a5a" stroke-width="1"/>
<line x1="596.4" y1="200.9" x2="596.4" y2="196.9" stroke="#5a5a5a" stroke-width="1"/>
<line x1="596.4" y1="110.1" x2="596.4" y2="114.1" stroke="#5a5a5a" stroke-width="1"/>
<text x="596.4" y="212.9" text-anchor="middle" style="font-family:'Liberation Sans',sans-serif;font-size:9.2px" fill="#222">550</text>
<line x1="458.6" y1="200.9" x2="462.6" y2="200.9" stroke="#5a5a5a" stroke-width="1"/>
<line x1="596.4" y1="200.9" x2="592.4" y2="200.9" stroke="#5a5a5a" stroke-width="1"/>
<line x1="458.6" y1="191.82" x2="460.6" y2="191.82" stroke="#5a5a5a" stroke-width="1"/>
<line x1="596.4" y1="191.82" x2="594.4" y2="191.82" stroke="#5a5a5a" stroke-width="1"/>
<line x1="458.6" y1="182.74" x2="462.6" y2="182.74" stroke="#5a5a5a" stroke-width="1"/>
<line x1="596.4" y1="182.74" x2="592.4" y2="182.74" stroke="#5a5a5a" stroke-width="1"/>
<line x1="458.6" y1="173.66" x2="460.6" y2="173.66" stroke="#5a5a5a" stroke-width="1"/>
<line x1="596.4" y1="173.66" x2="594.4" y2="173.66" stroke="#5a5a5a" stroke-width="1"/>
<line x1="458.6" y1="164.58" x2="462.6" y2="164.58" stroke="#5a5a5a" stroke-width="1"/>
<line x1="596.4" y1="164.58" x2="592.4" y2="164.58" stroke="#5a5a5a" stroke-width="1"/>
<line x1="458.6" y1="155.5" x2="460.6" y2="155.5" stroke="#5a5a5a" stroke-width="1"/>
<line x1="596.4" y1="155.5" x2="594.4" y2="155.5" stroke="#5a5a5a" stroke-width="1"/>
<line x1="458.6" y1="146.42" x2="462.6" y2="146.42" stroke="#5a5a5a" stroke-width="1"/>
<line x1="596.4" y1="146.42" x2="592.4" y2="146.42" stroke="#5a5a5a" stroke-width="1"/>
<line x1="458.6" y1="137.34" x2="460.6" y2="137.34" stroke="#5a5a5a" stroke-width="1"/>
<line x1="596.4" y1="137.34" x2="594.4" y2="137.34" stroke="#5a5a5a" stroke-width="1"/>
<line x1="458.6" y1="128.26" x2="462.6" y2="128.26" stroke="#5a5a5a" stroke-width="1"/>
<line x1="596.4" y1="128.26" x2="592.4" y2="128.26" stroke="#5a5a5a" stroke-width="1"/>
<line x1="458.6" y1="119.18" x2="460.6" y2="119.18" stroke="#5a5a5a" stroke-width="1"/>
<line x1="596.4" y1="119.18" x2="594.4" y2="119.18" stroke="#5a5a5a" stroke-width="1"/>
<line x1="458.6" y1="110.1" x2="462.6" y2="110.1" stroke="#5a5a5a" stroke-width="1"/>
<line x1="596.4" y1="110.1" x2="592.4" y2="110.1" stroke="#5a5a5a" stroke-width="1"/>
<text x="454.6" y="202.8" text-anchor="end" style="font-family:'Liberation Sans',sans-serif;font-size:9.2px" fill="#222">0.0</text>
<text x="454.6" y="184.64" text-anchor="end" style="font-family:'Liberation Sans',sans-serif;font-size:9.2px" fill="#222">0.1</text>
<text x="454.6" y="166.48" text-anchor="end" style="font-family:'Liberation Sans',sans-serif;font-size:9.2px" fill="#222">0.2</text>
<text x="454.6" y="148.32" text-anchor="end" style="font-family:'Liberation Sans',sans-serif;font-size:9.2px" fill="#222">0.3</text>
<text x="454.6" y="130.16" text-anchor="end" style="font-family:'Liberation Sans',sans-serif;font-size:9.2px" fill="#222">0.4</text>
<text x="454.6" y="112" text-anchor="end" style="font-family:'Liberation Sans',sans-serif;font-size:9.2px" fill="#222">0.5</text>
<rect x="458.6" y="110.1" width="137.8" height="90.8" fill="none" stroke="#5a5a5a" stroke-width="1.3"/>
<text transform="translate(435.8,159.5) rotate(-90)" text-anchor="middle" style="font-family:'Liberation Sans',sans-serif;font-size:11.6px" fill="#222">Intensity (a.u.)</text>
<text x="527.5" y="226.7" text-anchor="middle" style="font-family:'Liberation Sans',sans-serif;font-size:11.6px" fill="#222">Wavenumber(cm<tspan dy="-4.5" style="font-size:7.5px">-1</tspan><tspan dy="4.5">)</tspan></text>
<clipPath id="c341"><rect x="459" y="339.9" width="137.6" height="93"/></clipPath>
<path d="M459,430.28 L470.47,430.62 L481.7,430.91 L489.96,429.89 L495.69,428.69 L502.57,423.12 L507.62,415.1 L512.66,401.5 L517.25,386.83 L520.69,374.32 L523.9,366.3 L528.03,369.2 L532.39,378.87 L536.51,390.24 L541.1,406.17 L545.69,417.54 L549.59,424.2 L555.32,426.07 L561.05,428.07 L566.79,429.2 L572.52,430.28 L578.25,430.62 L583.53,431.19 L589.72,432.05 L594.99,432.9 L596.6,432.62" fill="none" stroke="#e32626" stroke-width="1.5" stroke-linejoin="round" clip-path="url(#c341)"/>
<line x1="459" y1="432.9" x2="459" y2="428.9" stroke="#5a5a5a" stroke-width="1"/>
<line x1="459" y1="341.9" x2="459" y2="345.9" stroke="#5a5a5a" stroke-width="1"/>
<text x="459" y="444.9" text-anchor="middle" style="font-family:'Liberation Sans',sans-serif;font-size:9.2px" fill="#222">490</text>
<line x1="470.47" y1="432.9" x2="470.47" y2="430.9" stroke="#5a5a5a" stroke-width="1"/>
<line x1="470.47" y1="341.9" x2="470.47" y2="343.9" stroke="#5a5a5a" stroke-width="1"/>
<line x1="481.93" y1="432.9" x2="481.93" y2="428.9" stroke="#5a5a5a" stroke-width="1"/>
<line x1="481.93" y1="341.9" x2="481.93" y2="345.9" stroke="#5a5a5a" stroke-width="1"/>
<text x="481.93" y="444.9" text-anchor="middle" style="font-family:'Liberation Sans',sans-serif;font-size:9.2px" fill="#222">500</text>
<line x1="493.4" y1="432.9" x2="493.4" y2="430.9" stroke="#5a5a5a" stroke-width="1"/>
<line x1="493.4" y1="341.9" x2="493.4" y2="343.9" stroke="#5a5a5a" stroke-width="1"/>
<line x1="504.87" y1="432.9" x2="504.87" y2="428.9" stroke="#5a5a5a" stroke-width="1"/>
<line x1="504.87" y1="341.9" x2="504.87" y2="345.9" stroke="#5a5a5a" stroke-width="1"/>
<text x="504.87" y="444.9" text-anchor="middle" style="font-family:'Liberation Sans',sans-serif;font-size:9.2px" fill="#222">510</text>
<line x1="516.33" y1="432.9" x2="516.33" y2="430.9" stroke="#5a5a5a" stroke-width="1"/>
<line x1="516.33" y1="341.9" x2="516.33" y2="343.9" stroke="#5a5a5a" stroke-width="1"/>
<line x1="527.8" y1="432.9" x2="527.8" y2="428.9" stroke="#5a5a5a" stroke-width="1"/>
<line x1="527.8" y1="341.9" x2="527.8" y2="345.9" stroke="#5a5a5a" stroke-width="1"/>
<text x="527.8" y="444.9" text-anchor="middle" style="font-family:'Liberation Sans',sans-serif;font-size:9.2px" fill="#222">520</text>
<line x1="539.27" y1="432.9" x2="539.27" y2="430.9" stroke="#5a5a5a" stroke-width="1"/>
<line x1="539.27" y1="341.9" x2="539.27" y2="343.9" stroke="#5a5a5a" stroke-width="1"/>
<line x1="550.73" y1="432.9" x2="550.73" y2="428.9" stroke="#5a5a5a" stroke-width="1"/>
<line x1="550.73" y1="341.9" x2="550.73" y2="345.9" stroke="#5a5a5a" stroke-width="1"/>
<text x="550.73" y="444.9" text-anchor="middle" style="font-family:'Liberation Sans',sans-serif;font-size:9.2px" fill="#222">530</text>
<line x1="562.2" y1="432.9" x2="562.2" y2="430.9" stroke="#5a5a5a" stroke-width="1"/>
<line x1="562.2" y1="341.9" x2="562.2" y2="343.9" stroke="#5a5a5a" stroke-width="1"/>
<line x1="573.67" y1="432.9" x2="573.67" y2="428.9" stroke="#5a5a5a" stroke-width="1"/>
<line x1="573.67" y1="341.9" x2="573.67" y2="345.9" stroke="#5a5a5a" stroke-width="1"/>
<text x="573.67" y="444.9" text-anchor="middle" style="font-family:'Liberation Sans',sans-serif;font-size:9.2px" fill="#222">540</text>
<line x1="585.13" y1="432.9" x2="585.13" y2="430.9" stroke="#5a5a5a" stroke-width="1"/>
<line x1="585.13" y1="341.9" x2="585.13" y2="343.9" stroke="#5a5a5a" stroke-width="1"/>
<line x1="596.6" y1="432.9" x2="596.6" y2="428.9" stroke="#5a5a5a" stroke-width="1"/>
<line x1="596.6" y1="341.9" x2="596.6" y2="345.9" stroke="#5a5a5a" stroke-width="1"/>
<text x="596.6" y="444.9" text-anchor="middle" style="font-family:'Liberation Sans',sans-serif;font-size:9.2px" fill="#222">550</text>
<line x1="459" y1="432.9" x2="463" y2="432.9" stroke="#5a5a5a" stroke-width="1"/>
<line x1="596.6" y1="432.9" x2="592.6" y2="432.9" stroke="#5a5a5a" stroke-width="1"/>
<line x1="459" y1="421.52" x2="461" y2="421.52" stroke="#5a5a5a" stroke-width="1"/>
<line x1="596.6" y1="421.52" x2="594.6" y2="421.52" stroke="#5a5a5a" stroke-width="1"/>
<line x1="459" y1="410.15" x2="463" y2="410.15" stroke="#5a5a5a" stroke-width="1"/>
<line x1="596.6" y1="410.15" x2="592.6" y2="410.15" stroke="#5a5a5a" stroke-width="1"/>
<line x1="459" y1="398.77" x2="461" y2="398.77" stroke="#5a5a5a" stroke-width="1"/>
<line x1="596.6" y1="398.77" x2="594.6" y2="398.77" stroke="#5a5a5a" stroke-width="1"/>
<line x1="459" y1="387.4" x2="463" y2="387.4" stroke="#5a5a5a" stroke-width="1"/>
<line x1="596.6" y1="387.4" x2="592.6" y2="387.4" stroke="#5a5a5a" stroke-width="1"/>
<line x1="459" y1="376.02" x2="461" y2="376.02" stroke="#5a5a5a" stroke-width="1"/>
<line x1="596.6" y1="376.02" x2="594.6" y2="376.02" stroke="#5a5a5a" stroke-width="1"/>
<line x1="459" y1="364.65" x2="463" y2="364.65" stroke="#5a5a5a" stroke-width="1"/>
<line x1="596.6" y1="364.65" x2="592.6" y2="364.65" stroke="#5a5a5a" stroke-width="1"/>
<line x1="459" y1="353.27" x2="461" y2="353.27" stroke="#5a5a5a" stroke-width="1"/>
<line x1="596.6" y1="353.27" x2="594.6" y2="353.27" stroke="#5a5a5a" stroke-width="1"/>
<line x1="459" y1="341.9" x2="463" y2="341.9" stroke="#5a5a5a" stroke-width="1"/>
<line x1="596.6" y1="341.9" x2="592.6" y2="341.9" stroke="#5a5a5a" stroke-width="1"/>
<text x="455" y="434.8" text-anchor="end" style="font-family:'Liberation Sans',sans-serif;font-size:9.2px" fill="#222">0.0</text>
<text x="455" y="412.05" text-anchor="end" style="font-family:'Liberation Sans',sans-serif;font-size:9.2px" fill="#222">0.4</text>
<text x="455" y="389.3" text-anchor="end" style="font-family:'Liberation Sans',sans-serif;font-size:9.2px" fill="#222">0.8</text>
<text x="455" y="366.55" text-anchor="end" style="font-family:'Liberation Sans',sans-serif;font-size:9.2px" fill="#222">1.2</text>
<text x="455" y="343.8" text-anchor="end" style="font-family:'Liberation Sans',sans-serif;font-size:9.2px" fill="#222">1.6</text>
<rect x="459" y="341.9" width="137.6" height="91" fill="none" stroke="#5a5a5a" stroke-width="1.3"/>
<text transform="translate(437,388.4) rotate(-90)" text-anchor="middle" style="font-family:'Liberation Sans',sans-serif;font-size:11.6px" fill="#222">Intensity (a.u.)</text>
<text x="532.8" y="458.7" text-anchor="middle" style="font-family:'Liberation Sans',sans-serif;font-size:11.6px" fill="#222">Wavenumber(cm<tspan dy="-4.5" style="font-size:7.5px">-1</tspan><tspan dy="4.5">)</tspan></text>
<clipPath id="c569"><rect x="458.9" y="567.1" width="137.9" height="92.8"/></clipPath>
<path d="M459.59,659.45 L462.12,658.08 L465.57,655.81 L470.39,657.18 L476.14,656.72 L481.42,655.81 L489.93,654.45 L494.52,651.95 L498.89,648.21 L503.72,639.24 L507.85,626.99 L511.99,607.69 L516.13,589.76 L520.27,575.91 L524.17,572.28 L528.54,584.31 L532.68,596.57 L537.5,614.5 L541.64,631.07 L545.78,643.33 L549.91,650.37 L554.05,653.09 L558.19,656.5 L561.41,655.36 L565.77,655.81 L569.68,656.72 L576.12,657.18 L583.7,656.72 L589.9,657.86 L595.88,658.76" fill="none" stroke="#e32626" stroke-width="1.5" stroke-linejoin="round" clip-path="url(#c569)"/>
<line x1="458.9" y1="659.9" x2="458.9" y2="655.9" stroke="#5a5a5a" stroke-width="1"/>
<line x1="458.9" y1="569.1" x2="458.9" y2="573.1" stroke="#5a5a5a" stroke-width="1"/>
<text x="458.9" y="671.9" text-anchor="middle" style="font-family:'Liberation Sans',sans-serif;font-size:9.2px" fill="#222">490</text>
<line x1="470.39" y1="659.9" x2="470.39" y2="657.9" stroke="#5a5a5a" stroke-width="1"/>
<line x1="470.39" y1="569.1" x2="470.39" y2="571.1" stroke="#5a5a5a" stroke-width="1"/>
<line x1="481.88" y1="659.9" x2="481.88" y2="655.9" stroke="#5a5a5a" stroke-width="1"/>
<line x1="481.88" y1="569.1" x2="481.88" y2="573.1" stroke="#5a5a5a" stroke-width="1"/>
<text x="481.88" y="671.9" text-anchor="middle" style="font-family:'Liberation Sans',sans-serif;font-size:9.2px" fill="#222">500</text>
<line x1="493.38" y1="659.9" x2="493.38" y2="657.9" stroke="#5a5a5a" stroke-width="1"/>
<line x1="493.38" y1="569.1" x2="493.38" y2="571.1" stroke="#5a5a5a" stroke-width="1"/>
<line x1="504.87" y1="659.9" x2="504.87" y2="655.9" stroke="#5a5a5a" stroke-width="1"/>
<line x1="504.87" y1="569.1" x2="504.87" y2="573.1" stroke="#5a5a5a" stroke-width="1"/>
<text x="504.87" y="671.9" text-anchor="middle" style="font-family:'Liberation Sans',sans-serif;font-size:9.2px" fill="#222">510</text>
<line x1="516.36" y1="659.9" x2="516.36" y2="657.9" stroke="#5a5a5a" stroke-width="1"/>
<line x1="516.36" y1="569.1" x2="516.36" y2="571.1" stroke="#5a5a5a" stroke-width="1"/>
<line x1="527.85" y1="659.9" x2="527.85" y2="655.9" stroke="#5a5a5a" stroke-width="1"/>
<line x1="527.85" y1="569.1" x2="527.85" y2="573.1" stroke="#5a5a5a" stroke-width="1"/>
<text x="527.85" y="671.9" text-anchor="middle" style="font-family:'Liberation Sans',sans-serif;font-size:9.2px" fill="#222">520</text>
<line x1="539.34" y1="659.9" x2="539.34" y2="657.9" stroke="#5a5a5a" stroke-width="1"/>
<line x1="539.34" y1="569.1" x2="539.34" y2="571.1" stroke="#5a5a5a" stroke-width="1"/>
<line x1="550.83" y1="659.9" x2="550.83" y2="655.9" stroke="#5a5a5a" stroke-width="1"/>
<line x1="550.83" y1="569.1" x2="550.83" y2="573.1" stroke="#5a5a5a" stroke-width="1"/>
<text x="550.83" y="671.9" text-anchor="middle" style="font-family:'Liberation Sans',sans-serif;font-size:9.2px" fill="#222">530</text>
<line x1="562.32" y1="659.9" x2="562.32" y2="657.9" stroke="#5a5a5a" stroke-width="1"/>
<line x1="562.32" y1="569.1" x2="562.32" y2="571.1" stroke="#5a5a5a" stroke-width="1"/>
<line x1="573.82" y1="659.9" x2="573.82" y2="655.9" stroke="#5a5a5a" stroke-width="1"/>
<line x1="573.82" y1="569.1" x2="573.82" y2="573.1" stroke="#5a5a5a" stroke-width="1"/>
<text x="573.82" y="671.9" text-anchor="middle" style="font-family:'Liberation Sans',sans-serif;font-size:9.2px" fill="#222">540</text>
<line x1="585.31" y1="659.9" x2="585.31" y2="657.9" stroke="#5a5a5a" stroke-width="1"/>
<line x1="585.31" y1="569.1" x2="585.31" y2="571.1" stroke="#5a5a5a" stroke-width="1"/>
<line x1="596.8" y1="659.9" x2="596.8" y2="655.9" stroke="#5a5a5a" stroke-width="1"/>
<line x1="596.8" y1="569.1" x2="596.8" y2="573.1" stroke="#5a5a5a" stroke-width="1"/>
<text x="596.8" y="671.9" text-anchor="middle" style="font-family:'Liberation Sans',sans-serif;font-size:9.2px" fill="#222">550</text>
<line x1="458.9" y1="659.9" x2="462.9" y2="659.9" stroke="#5a5a5a" stroke-width="1"/>
<line x1="596.8" y1="659.9" x2="592.8" y2="659.9" stroke="#5a5a5a" stroke-width="1"/>
<line x1="458.9" y1="648.55" x2="460.9" y2="648.55" stroke="#5a5a5a" stroke-width="1"/>
<line x1="596.8" y1="648.55" x2="594.8" y2="648.55" stroke="#5a5a5a" stroke-width="1"/>
<line x1="458.9" y1="637.2" x2="462.9" y2="637.2" stroke="#5a5a5a" stroke-width="1"/>
<line x1="596.8" y1="637.2" x2="592.8" y2="637.2" stroke="#5a5a5a" stroke-width="1"/>
<line x1="458.9" y1="625.85" x2="460.9" y2="625.85" stroke="#5a5a5a" stroke-width="1"/>
<line x1="596.8" y1="625.85" x2="594.8" y2="625.85" stroke="#5a5a5a" stroke-width="1"/>
<line x1="458.9" y1="614.5" x2="462.9" y2="614.5" stroke="#5a5a5a" stroke-width="1"/>
<line x1="596.8" y1="614.5" x2="592.8" y2="614.5" stroke="#5a5a5a" stroke-width="1"/>
<line x1="458.9" y1="603.15" x2="460.9" y2="603.15" stroke="#5a5a5a" stroke-width="1"/>
<line x1="596.8" y1="603.15" x2="594.8" y2="603.15" stroke="#5a5a5a" stroke-width="1"/>
<line x1="458.9" y1="591.8" x2="462.9" y2="591.8" stroke="#5a5a5a" stroke-width="1"/>
<line x1="596.8" y1="591.8" x2="592.8" y2="591.8" stroke="#5a5a5a" stroke-width="1"/>
<line x1="458.9" y1="580.45" x2="460.9" y2="580.45" stroke="#5a5a5a" stroke-width="1"/>
<line x1="596.8" y1="580.45" x2="594.8" y2="580.45" stroke="#5a5a5a" stroke-width="1"/>
<line x1="458.9" y1="569.1" x2="462.9" y2="569.1" stroke="#5a5a5a" stroke-width="1"/>
<line x1="596.8" y1="569.1" x2="592.8" y2="569.1" stroke="#5a5a5a" stroke-width="1"/>
<text x="454.9" y="661.8" text-anchor="end" style="font-family:'Liberation Sans',sans-serif;font-size:9.2px" fill="#222">0</text>
<text x="454.9" y="639.1" text-anchor="end" style="font-family:'Liberation Sans',sans-serif;font-size:9.2px" fill="#222">1</text>
<text x="454.9" y="616.4" text-anchor="end" style="font-family:'Liberation Sans',sans-serif;font-size:9.2px" fill="#222">2</text>
<text x="454.9" y="593.7" text-anchor="end" style="font-family:'Liberation Sans',sans-serif;font-size:9.2px" fill="#222">3</text>
<text x="454.9" y="571" text-anchor="end" style="font-family:'Liberation Sans',sans-serif;font-size:9.2px" fill="#222">4</text>
<rect x="458.9" y="569.1" width="137.9" height="90.8" fill="none" stroke="#5a5a5a" stroke-width="1.3"/>
<text transform="translate(443.9,614.5) rotate(-90)" text-anchor="middle" style="font-family:'Liberation Sans',sans-serif;font-size:11.6px" fill="#222">Intensity (a.u.)</text>
<text x="531.85" y="687.1" text-anchor="middle" style="font-family:'Liberation Sans',sans-serif;font-size:11.6px" fill="#222">Wavenumber(cm<tspan dy="-4.5" style="font-size:7.5px">-1</tspan><tspan dy="4.5">)</tspan></text>
<line x1="528.3" y1="112.5" x2="528.3" y2="622.5" stroke="#5a7db4" stroke-width="1" stroke-dasharray="2,1.1"/>
<line x1="524.9" y1="341.5" x2="524.9" y2="401" stroke="#7fa9dd" stroke-width="1" stroke-dasharray="2.2,1.3"/>
<line x1="522.2" y1="569.5" x2="522.2" y2="627.5" stroke="#5a7db4" stroke-width="1" stroke-dasharray="2,1.1"/>
<line x1="515.8" y1="359.6" x2="522" y2="359.6" stroke="#4a7cc6" stroke-width="1.2"/>
<polygon points="525,359.6 520,357 520,362.2" fill="#4a7cc6"/>
<line x1="531.6" y1="359.6" x2="537.8" y2="359.6" stroke="#4a7cc6" stroke-width="1.2"/>
<polygon points="528.6,359.6 533.6,357 533.6,362.2" fill="#4a7cc6"/>
<text x="495.2" y="359.2" style="font-family:'Liberation Serif',serif;font-size:13px" fill="#333">&#916;<tspan style="font-style:italic">&#969;</tspan></text>
<text x="464" y="371.7" style="font-family:'Liberation Sans',sans-serif;font-size:10.2px" fill="#222">(softening)</text>
<line x1="513" y1="618.4" x2="518.8" y2="618.4" stroke="#4a7cc6" stroke-width="1.2"/>
<polygon points="521.8,618.4 516.8,615.8 516.8,621" fill="#4a7cc6"/>
<line x1="531.2" y1="618.4" x2="537" y2="618.4" stroke="#4a7cc6" stroke-width="1.2"/>
<polygon points="528.2,618.4 533.2,615.8 533.2,621" fill="#4a7cc6"/>
<text x="492.9" y="617" style="font-family:'Liberation Serif',serif;font-size:13px" fill="#333">&#916;<tspan style="font-style:italic">&#969;</tspan></text>
<text x="461.5" y="629" style="font-family:'Liberation Sans',sans-serif;font-size:10.2px" fill="#222">(softening)</text>
</svg>
</body></html>
